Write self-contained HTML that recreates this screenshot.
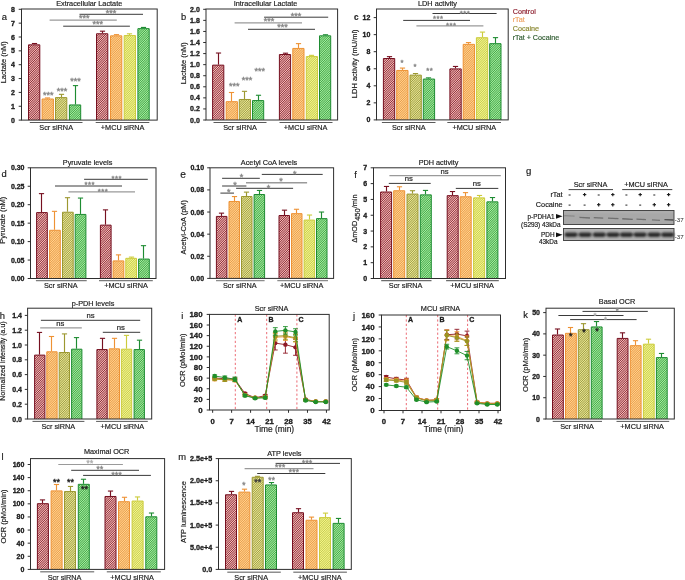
<!DOCTYPE html>
<html><head><meta charset="utf-8"><title>Figure</title>
<style>html,body{margin:0;padding:0;background:#fff}svg{display:block}text{font-family:"Liberation Sans",sans-serif}</style>
</head><body>
<svg width="685" height="580" viewBox="0 0 685 580" style="will-change:transform">
<defs>
<pattern id="pr" width="1.59" height="4" patternUnits="userSpaceOnUse" patternTransform="rotate(45)"><rect width="1.59" height="4" fill="#fcc4c2"/><rect width="0.795" height="4" fill="#8c3038"/></pattern>
<pattern id="po" width="1.59" height="4" patternUnits="userSpaceOnUse" patternTransform="rotate(45)"><rect width="1.59" height="4" fill="#ffd894"/><rect width="0.795" height="4" fill="#ec9a48"/></pattern>
<pattern id="pk" width="1.59" height="4" patternUnits="userSpaceOnUse" patternTransform="rotate(45)"><rect width="1.59" height="4" fill="#f0ee98"/><rect width="0.795" height="4" fill="#9c9a46"/></pattern>
<pattern id="py" width="1.59" height="4" patternUnits="userSpaceOnUse" patternTransform="rotate(45)"><rect width="1.59" height="4" fill="#f8fa90"/><rect width="0.795" height="4" fill="#c6ca50"/></pattern>
<pattern id="pg" width="1.59" height="4" patternUnits="userSpaceOnUse" patternTransform="rotate(45)"><rect width="1.59" height="4" fill="#a8f6a4"/><rect width="0.795" height="4" fill="#46a048"/></pattern>
<filter id="bl1" x="-5%" y="-50%" width="110%" height="200%"><feGaussianBlur stdDeviation="0.5"/></filter>
<filter id="bl2" x="-5%" y="-50%" width="110%" height="200%"><feGaussianBlur stdDeviation="0.95"/></filter>
<mask id="mk" maskUnits="userSpaceOnUse" x="0" y="0" width="685" height="580"><rect width="685" height="580" fill="#fff"/></mask>
</defs>
<rect width="685" height="580" fill="#fff"/>
<g mask="url(#mk)">
<g>
<line x1="34.5" y1="44.34" x2="34.5" y2="43.51" stroke="#761020" stroke-width="1.15"/>
<line x1="31.9" y1="43.51" x2="37.1" y2="43.51" stroke="#761020" stroke-width="1.1"/>
<path d="M28.5 120.1V44.84H39.8V120.1" fill="url(#pr)" stroke="#761020" stroke-width="1"/>
<line x1="47.5" y1="98.49" x2="47.5" y2="97.94" stroke="#ee9234" stroke-width="1.15"/>
<line x1="44.9" y1="97.94" x2="50.1" y2="97.94" stroke="#ee9234" stroke-width="1.1"/>
<path d="M42.1 120.1V98.99H53.4V120.1" fill="url(#po)" stroke="#ee9234" stroke-width="1"/>
<line x1="61.5" y1="97.11" x2="61.5" y2="94.34" stroke="#9c9830" stroke-width="1.15"/>
<line x1="58.9" y1="94.34" x2="64.1" y2="94.34" stroke="#9c9830" stroke-width="1.1"/>
<path d="M55.5 120.1V97.61H66.8V120.1" fill="url(#pk)" stroke="#9c9830" stroke-width="1"/>
<line x1="75.5" y1="104.45" x2="75.5" y2="85.61" stroke="#1e8c32" stroke-width="1.15"/>
<line x1="72.9" y1="85.61" x2="78.1" y2="85.61" stroke="#1e8c32" stroke-width="1.1"/>
<path d="M69.4 120.1V104.95H80.7V120.1" fill="url(#pg)" stroke="#1e8c32" stroke-width="1"/>
<line x1="102.5" y1="33.26" x2="102.5" y2="31.18" stroke="#761020" stroke-width="1.15"/>
<line x1="99.9" y1="31.18" x2="105.1" y2="31.18" stroke="#761020" stroke-width="1.1"/>
<path d="M96.5 120.1V33.76H107.8V120.1" fill="url(#pr)" stroke="#761020" stroke-width="1"/>
<line x1="116.5" y1="35.34" x2="116.5" y2="34.65" stroke="#ee9234" stroke-width="1.15"/>
<line x1="113.9" y1="34.65" x2="119.1" y2="34.65" stroke="#ee9234" stroke-width="1.1"/>
<path d="M110.5 120.1V35.84H121.8V120.1" fill="url(#po)" stroke="#ee9234" stroke-width="1"/>
<line x1="129.5" y1="35.06" x2="129.5" y2="33.81" stroke="#cccc3c" stroke-width="1.15"/>
<line x1="126.9" y1="33.81" x2="132.1" y2="33.81" stroke="#cccc3c" stroke-width="1.1"/>
<path d="M124.2 120.1V35.56H135.5V120.1" fill="url(#py)" stroke="#cccc3c" stroke-width="1"/>
<line x1="143.5" y1="28.14" x2="143.5" y2="27.44" stroke="#1e8c32" stroke-width="1.15"/>
<line x1="140.9" y1="27.44" x2="146.1" y2="27.44" stroke="#1e8c32" stroke-width="1.1"/>
<path d="M137.9 120.1V28.64H149.2V120.1" fill="url(#pg)" stroke="#1e8c32" stroke-width="1"/>
<rect x="21.5" y="9" width="135.7" height="111.1" fill="none" stroke="#2e2e2e" stroke-width="1"/>
<line x1="18.7" y1="120.1" x2="21.5" y2="120.1" stroke="#2e2e2e" stroke-width="1"/>
<text x="14.9" y="122.6" font-size="7.0" text-anchor="end" font-weight="bold" fill="#1c1c1c" stroke="#1c1c1c" stroke-width="0.32">0</text>
<line x1="18.7" y1="106.25" x2="21.5" y2="106.25" stroke="#2e2e2e" stroke-width="1"/>
<text x="14.9" y="108.75" font-size="7.0" text-anchor="end" font-weight="bold" fill="#1c1c1c" stroke="#1c1c1c" stroke-width="0.32">1</text>
<line x1="18.7" y1="92.4" x2="21.5" y2="92.4" stroke="#2e2e2e" stroke-width="1"/>
<text x="14.9" y="94.9" font-size="7.0" text-anchor="end" font-weight="bold" fill="#1c1c1c" stroke="#1c1c1c" stroke-width="0.32">2</text>
<line x1="18.7" y1="78.55" x2="21.5" y2="78.55" stroke="#2e2e2e" stroke-width="1"/>
<text x="14.9" y="81.05" font-size="7.0" text-anchor="end" font-weight="bold" fill="#1c1c1c" stroke="#1c1c1c" stroke-width="0.32">3</text>
<line x1="18.7" y1="64.7" x2="21.5" y2="64.7" stroke="#2e2e2e" stroke-width="1"/>
<text x="14.9" y="67.2" font-size="7.0" text-anchor="end" font-weight="bold" fill="#1c1c1c" stroke="#1c1c1c" stroke-width="0.32">4</text>
<line x1="18.7" y1="50.85" x2="21.5" y2="50.85" stroke="#2e2e2e" stroke-width="1"/>
<text x="14.9" y="53.35" font-size="7.0" text-anchor="end" font-weight="bold" fill="#1c1c1c" stroke="#1c1c1c" stroke-width="0.32">5</text>
<line x1="18.7" y1="37" x2="21.5" y2="37" stroke="#2e2e2e" stroke-width="1"/>
<text x="14.9" y="39.5" font-size="7.0" text-anchor="end" font-weight="bold" fill="#1c1c1c" stroke="#1c1c1c" stroke-width="0.32">6</text>
<line x1="18.7" y1="23.15" x2="21.5" y2="23.15" stroke="#2e2e2e" stroke-width="1"/>
<text x="14.9" y="25.65" font-size="7.0" text-anchor="end" font-weight="bold" fill="#1c1c1c" stroke="#1c1c1c" stroke-width="0.32">7</text>
<line x1="18.7" y1="9.3" x2="21.5" y2="9.3" stroke="#2e2e2e" stroke-width="1"/>
<text x="14.9" y="11.8" font-size="7.0" text-anchor="end" font-weight="bold" fill="#1c1c1c" stroke="#1c1c1c" stroke-width="0.32">8</text>
<text x="89.2" y="5.8" font-size="7.3" text-anchor="middle" fill="#1c1c1c" stroke="#1c1c1c" stroke-width="0.18">Extracellular Lactate</text>
<text x="1.8" y="19.6" font-size="9.4" text-anchor="start" fill="#1c1c1c" stroke="#1c1c1c" stroke-width="0.18">a</text>
<text transform="translate(6.1 62.3) rotate(-90)" font-size="7.5" text-anchor="middle" fill="#1c1c1c" stroke="#1c1c1c" stroke-width="0.18">Lactate (nM)</text>
<line x1="79.5" y1="14.3" x2="143" y2="14.3" stroke="#3a3a3a" stroke-width="1"/>
<line x1="49.6" y1="20.2" x2="116.8" y2="20.2" stroke="#9a9a9a" stroke-width="1.2"/>
<line x1="63.2" y1="26.2" x2="129.9" y2="26.2" stroke="#3a3a3a" stroke-width="1"/>
<text x="111" y="15.89" font-size="9" text-anchor="middle" fill="#8a8a8a" letter-spacing="-0" stroke="#8a8a8a" stroke-width="0.4">***</text>
<text x="84.2" y="21.39" font-size="9" text-anchor="middle" fill="#8a8a8a" letter-spacing="-0" stroke="#8a8a8a" stroke-width="0.4">***</text>
<text x="97.8" y="27.49" font-size="9" text-anchor="middle" fill="#8a8a8a" letter-spacing="-0" stroke="#8a8a8a" stroke-width="0.4">***</text>
<text x="48.3" y="98.09" font-size="9" text-anchor="middle" fill="#8a8a8a" letter-spacing="-0" stroke="#8a8a8a" stroke-width="0.4">***</text>
<text x="62" y="93.59" font-size="9" text-anchor="middle" fill="#8a8a8a" letter-spacing="-0" stroke="#8a8a8a" stroke-width="0.4">***</text>
<text x="75.4" y="84.49" font-size="9" text-anchor="middle" fill="#8a8a8a" letter-spacing="-0" stroke="#8a8a8a" stroke-width="0.4">***</text>
<line x1="29.8" y1="122.5" x2="82.5" y2="122.5" stroke="#5a5a5a" stroke-width="1.0"/>
<line x1="95.7" y1="122.5" x2="149.3" y2="122.5" stroke="#5a5a5a" stroke-width="1.0"/>
<text x="56.2" y="129.7" font-size="7.3" text-anchor="middle" fill="#1c1c1c" stroke="#1c1c1c" stroke-width="0.18">Scr siRNA</text>
<text x="122.6" y="129.7" font-size="7.3" text-anchor="middle" fill="#1c1c1c" stroke="#1c1c1c" stroke-width="0.18">+MCU siRNA</text>
</g>
<g>
<line x1="218.5" y1="64.65" x2="218.5" y2="53.03" stroke="#761020" stroke-width="1.15"/>
<line x1="215.9" y1="53.03" x2="221.1" y2="53.03" stroke="#761020" stroke-width="1.1"/>
<path d="M212.6 120V65.15H223.8V120" fill="url(#pr)" stroke="#761020" stroke-width="1"/>
<line x1="231.5" y1="101.18" x2="231.5" y2="92.49" stroke="#ee9234" stroke-width="1.15"/>
<line x1="228.9" y1="92.49" x2="234.1" y2="92.49" stroke="#ee9234" stroke-width="1.1"/>
<path d="M226.2 120V101.68H237.4V120" fill="url(#po)" stroke="#ee9234" stroke-width="1"/>
<line x1="244.5" y1="98.97" x2="244.5" y2="91.33" stroke="#9c9830" stroke-width="1.15"/>
<line x1="241.9" y1="91.33" x2="247.1" y2="91.33" stroke="#9c9830" stroke-width="1.1"/>
<path d="M239.3 120V99.47H250.5V120" fill="url(#pk)" stroke="#9c9830" stroke-width="1"/>
<line x1="258.5" y1="100.07" x2="258.5" y2="95.26" stroke="#1e8c32" stroke-width="1.15"/>
<line x1="255.9" y1="95.26" x2="261.1" y2="95.26" stroke="#1e8c32" stroke-width="1.1"/>
<path d="M252.5 120V100.57H263.7V120" fill="url(#pg)" stroke="#1e8c32" stroke-width="1"/>
<line x1="285.5" y1="54.02" x2="285.5" y2="53.19" stroke="#761020" stroke-width="1.15"/>
<line x1="282.9" y1="53.19" x2="288.1" y2="53.19" stroke="#761020" stroke-width="1.1"/>
<path d="M279.4 120V54.52H290.6V120" fill="url(#pr)" stroke="#761020" stroke-width="1"/>
<line x1="298.5" y1="47.93" x2="298.5" y2="43.62" stroke="#ee9234" stroke-width="1.15"/>
<line x1="295.9" y1="43.62" x2="301.1" y2="43.62" stroke="#ee9234" stroke-width="1.1"/>
<path d="M292.8 120V48.43H304V120" fill="url(#po)" stroke="#ee9234" stroke-width="1"/>
<line x1="311.5" y1="56.07" x2="311.5" y2="55.35" stroke="#cccc3c" stroke-width="1.15"/>
<line x1="308.9" y1="55.35" x2="314.1" y2="55.35" stroke="#cccc3c" stroke-width="1.1"/>
<path d="M306.3 120V56.57H317.5V120" fill="url(#py)" stroke="#cccc3c" stroke-width="1"/>
<line x1="325.5" y1="35.31" x2="325.5" y2="34.76" stroke="#1e8c32" stroke-width="1.15"/>
<line x1="322.9" y1="34.76" x2="328.1" y2="34.76" stroke="#1e8c32" stroke-width="1.1"/>
<path d="M319.5 120V35.81H330.7V120" fill="url(#pg)" stroke="#1e8c32" stroke-width="1"/>
<rect x="206" y="9" width="131.6" height="111" fill="none" stroke="#2e2e2e" stroke-width="1"/>
<line x1="203.2" y1="120" x2="206" y2="120" stroke="#2e2e2e" stroke-width="1"/>
<text x="199.8" y="122.5" font-size="7.0" text-anchor="end" font-weight="bold" fill="#1c1c1c" stroke="#1c1c1c" stroke-width="0.32">0.0</text>
<line x1="203.2" y1="108.93" x2="206" y2="108.93" stroke="#2e2e2e" stroke-width="1"/>
<text x="199.8" y="111.43" font-size="7.0" text-anchor="end" font-weight="bold" fill="#1c1c1c" stroke="#1c1c1c" stroke-width="0.32">0.2</text>
<line x1="203.2" y1="97.86" x2="206" y2="97.86" stroke="#2e2e2e" stroke-width="1"/>
<text x="199.8" y="100.36" font-size="7.0" text-anchor="end" font-weight="bold" fill="#1c1c1c" stroke="#1c1c1c" stroke-width="0.32">0.4</text>
<line x1="203.2" y1="86.79" x2="206" y2="86.79" stroke="#2e2e2e" stroke-width="1"/>
<text x="199.8" y="89.29" font-size="7.0" text-anchor="end" font-weight="bold" fill="#1c1c1c" stroke="#1c1c1c" stroke-width="0.32">0.6</text>
<line x1="203.2" y1="75.72" x2="206" y2="75.72" stroke="#2e2e2e" stroke-width="1"/>
<text x="199.8" y="78.22" font-size="7.0" text-anchor="end" font-weight="bold" fill="#1c1c1c" stroke="#1c1c1c" stroke-width="0.32">0.8</text>
<line x1="203.2" y1="64.65" x2="206" y2="64.65" stroke="#2e2e2e" stroke-width="1"/>
<text x="199.8" y="67.15" font-size="7.0" text-anchor="end" font-weight="bold" fill="#1c1c1c" stroke="#1c1c1c" stroke-width="0.32">1.0</text>
<line x1="203.2" y1="53.58" x2="206" y2="53.58" stroke="#2e2e2e" stroke-width="1"/>
<text x="199.8" y="56.08" font-size="7.0" text-anchor="end" font-weight="bold" fill="#1c1c1c" stroke="#1c1c1c" stroke-width="0.32">1.2</text>
<line x1="203.2" y1="42.51" x2="206" y2="42.51" stroke="#2e2e2e" stroke-width="1"/>
<text x="199.8" y="45.01" font-size="7.0" text-anchor="end" font-weight="bold" fill="#1c1c1c" stroke="#1c1c1c" stroke-width="0.32">1.4</text>
<line x1="203.2" y1="31.44" x2="206" y2="31.44" stroke="#2e2e2e" stroke-width="1"/>
<text x="199.8" y="33.94" font-size="7.0" text-anchor="end" font-weight="bold" fill="#1c1c1c" stroke="#1c1c1c" stroke-width="0.32">1.6</text>
<line x1="203.2" y1="20.37" x2="206" y2="20.37" stroke="#2e2e2e" stroke-width="1"/>
<text x="199.8" y="22.87" font-size="7.0" text-anchor="end" font-weight="bold" fill="#1c1c1c" stroke="#1c1c1c" stroke-width="0.32">1.8</text>
<line x1="203.2" y1="9.3" x2="206" y2="9.3" stroke="#2e2e2e" stroke-width="1"/>
<text x="199.8" y="11.8" font-size="7.0" text-anchor="end" font-weight="bold" fill="#1c1c1c" stroke="#1c1c1c" stroke-width="0.32">2.0</text>
<text x="265.5" y="5.8" font-size="7.3" text-anchor="middle" fill="#1c1c1c" stroke="#1c1c1c" stroke-width="0.18">Intracellular Lactate</text>
<text x="181" y="19.8" font-size="9.4" text-anchor="start" fill="#1c1c1c" stroke="#1c1c1c" stroke-width="0.18">b</text>
<text transform="translate(185.6 63.3) rotate(-90)" font-size="7.5" text-anchor="middle" fill="#1c1c1c" stroke="#1c1c1c" stroke-width="0.18">Lactate (nM)</text>
<line x1="264.1" y1="17.2" x2="328.2" y2="17.2" stroke="#3a3a3a" stroke-width="1"/>
<line x1="234.6" y1="22.8" x2="302" y2="22.8" stroke="#9a9a9a" stroke-width="1.2"/>
<line x1="248" y1="29.3" x2="315" y2="29.3" stroke="#3a3a3a" stroke-width="1"/>
<text x="296" y="18.59" font-size="9" text-anchor="middle" fill="#8a8a8a" letter-spacing="-0" stroke="#8a8a8a" stroke-width="0.4">***</text>
<text x="269" y="24.29" font-size="9" text-anchor="middle" fill="#8a8a8a" letter-spacing="-0" stroke="#8a8a8a" stroke-width="0.4">***</text>
<text x="282.6" y="30.39" font-size="9" text-anchor="middle" fill="#8a8a8a" letter-spacing="-0" stroke="#8a8a8a" stroke-width="0.4">***</text>
<text x="234.3" y="89.09" font-size="9" text-anchor="middle" fill="#8a8a8a" letter-spacing="-0" stroke="#8a8a8a" stroke-width="0.4">***</text>
<text x="247" y="82.69" font-size="9" text-anchor="middle" fill="#8a8a8a" letter-spacing="-0" stroke="#8a8a8a" stroke-width="0.4">***</text>
<text x="259.8" y="74.49" font-size="9" text-anchor="middle" fill="#8a8a8a" letter-spacing="-0" stroke="#8a8a8a" stroke-width="0.4">***</text>
<line x1="213.5" y1="122.5" x2="266.5" y2="122.5" stroke="#5a5a5a" stroke-width="1.0"/>
<line x1="279.5" y1="122.5" x2="332.5" y2="122.5" stroke="#5a5a5a" stroke-width="1.0"/>
<text x="240" y="129.7" font-size="7.3" text-anchor="middle" fill="#1c1c1c" stroke="#1c1c1c" stroke-width="0.18">Scr siRNA</text>
<text x="305.6" y="129.7" font-size="7.3" text-anchor="middle" fill="#1c1c1c" stroke="#1c1c1c" stroke-width="0.18">+MCU siRNA</text>
</g>
<g>
<line x1="389.5" y1="58.01" x2="389.5" y2="56.64" stroke="#761020" stroke-width="1.15"/>
<line x1="386.9" y1="56.64" x2="392.1" y2="56.64" stroke="#761020" stroke-width="1.1"/>
<path d="M383.4 119.9V58.51H394.7V119.9" fill="url(#pr)" stroke="#761020" stroke-width="1"/>
<line x1="402.5" y1="69.94" x2="402.5" y2="68.07" stroke="#ee9234" stroke-width="1.15"/>
<line x1="399.9" y1="68.07" x2="405.1" y2="68.07" stroke="#ee9234" stroke-width="1.1"/>
<path d="M396.7 119.9V70.44H408V119.9" fill="url(#po)" stroke="#ee9234" stroke-width="1"/>
<line x1="415.5" y1="74.63" x2="415.5" y2="73.52" stroke="#9c9830" stroke-width="1.15"/>
<line x1="412.9" y1="73.52" x2="418.1" y2="73.52" stroke="#9c9830" stroke-width="1.1"/>
<path d="M410 119.9V75.13H421.3V119.9" fill="url(#pk)" stroke="#9c9830" stroke-width="1"/>
<line x1="428.5" y1="78.55" x2="428.5" y2="77.87" stroke="#1e8c32" stroke-width="1.15"/>
<line x1="425.9" y1="77.87" x2="431.1" y2="77.87" stroke="#1e8c32" stroke-width="1.1"/>
<path d="M423.3 119.9V79.05H434.6V119.9" fill="url(#pg)" stroke="#1e8c32" stroke-width="1"/>
<line x1="455.5" y1="68.41" x2="455.5" y2="66.45" stroke="#761020" stroke-width="1.15"/>
<line x1="452.9" y1="66.45" x2="458.1" y2="66.45" stroke="#761020" stroke-width="1.1"/>
<path d="M449.9 119.9V68.91H461.2V119.9" fill="url(#pr)" stroke="#761020" stroke-width="1"/>
<line x1="468.5" y1="43.86" x2="468.5" y2="42.58" stroke="#ee9234" stroke-width="1.15"/>
<line x1="465.9" y1="42.58" x2="471.1" y2="42.58" stroke="#ee9234" stroke-width="1.1"/>
<path d="M463.2 119.9V44.36H474.5V119.9" fill="url(#po)" stroke="#ee9234" stroke-width="1"/>
<line x1="482.5" y1="37.21" x2="482.5" y2="32.09" stroke="#cccc3c" stroke-width="1.15"/>
<line x1="479.9" y1="32.09" x2="485.1" y2="32.09" stroke="#cccc3c" stroke-width="1.1"/>
<path d="M476.4 119.9V37.71H487.7V119.9" fill="url(#py)" stroke="#cccc3c" stroke-width="1"/>
<line x1="495.5" y1="43.17" x2="495.5" y2="37.63" stroke="#1e8c32" stroke-width="1.15"/>
<line x1="492.9" y1="37.63" x2="498.1" y2="37.63" stroke="#1e8c32" stroke-width="1.1"/>
<path d="M489.7 119.9V43.67H501V119.9" fill="url(#pg)" stroke="#1e8c32" stroke-width="1"/>
<rect x="376.5" y="9" width="131.7" height="110.9" fill="none" stroke="#2e2e2e" stroke-width="1"/>
<line x1="373.7" y1="119.9" x2="376.5" y2="119.9" stroke="#2e2e2e" stroke-width="1"/>
<text x="370.4" y="122.4" font-size="7.0" text-anchor="end" font-weight="bold" fill="#1c1c1c" stroke="#1c1c1c" stroke-width="0.32">0</text>
<line x1="373.7" y1="102.85" x2="376.5" y2="102.85" stroke="#2e2e2e" stroke-width="1"/>
<text x="370.4" y="105.35" font-size="7.0" text-anchor="end" font-weight="bold" fill="#1c1c1c" stroke="#1c1c1c" stroke-width="0.32">2</text>
<line x1="373.7" y1="85.8" x2="376.5" y2="85.8" stroke="#2e2e2e" stroke-width="1"/>
<text x="370.4" y="88.3" font-size="7.0" text-anchor="end" font-weight="bold" fill="#1c1c1c" stroke="#1c1c1c" stroke-width="0.32">4</text>
<line x1="373.7" y1="68.75" x2="376.5" y2="68.75" stroke="#2e2e2e" stroke-width="1"/>
<text x="370.4" y="71.25" font-size="7.0" text-anchor="end" font-weight="bold" fill="#1c1c1c" stroke="#1c1c1c" stroke-width="0.32">6</text>
<line x1="373.7" y1="51.7" x2="376.5" y2="51.7" stroke="#2e2e2e" stroke-width="1"/>
<text x="370.4" y="54.2" font-size="7.0" text-anchor="end" font-weight="bold" fill="#1c1c1c" stroke="#1c1c1c" stroke-width="0.32">8</text>
<line x1="373.7" y1="34.65" x2="376.5" y2="34.65" stroke="#2e2e2e" stroke-width="1"/>
<text x="370.4" y="37.15" font-size="7.0" text-anchor="end" font-weight="bold" fill="#1c1c1c" stroke="#1c1c1c" stroke-width="0.32">10</text>
<line x1="373.7" y1="17.6" x2="376.5" y2="17.6" stroke="#2e2e2e" stroke-width="1"/>
<text x="370.4" y="20.1" font-size="7.0" text-anchor="end" font-weight="bold" fill="#1c1c1c" stroke="#1c1c1c" stroke-width="0.32">12</text>
<text x="437.5" y="5.8" font-size="7.3" text-anchor="middle" fill="#1c1c1c" stroke="#1c1c1c" stroke-width="0.18">LDH activity</text>
<text x="354" y="19.6" font-size="9.4" text-anchor="start" fill="#1c1c1c" stroke="#1c1c1c" stroke-width="0.18"><tspan font-weight="bold" font-size="8.2">c</tspan></text>
<text transform="translate(357 63.8) rotate(-90)" font-size="7.5" text-anchor="middle" fill="#1c1c1c" stroke="#1c1c1c" stroke-width="0.18">LDH activity (mU/ml)</text>
<line x1="432.5" y1="13.5" x2="496.6" y2="13.5" stroke="#3a3a3a" stroke-width="1"/>
<line x1="403.2" y1="20.4" x2="470" y2="20.4" stroke="#3a3a3a" stroke-width="1"/>
<line x1="416.4" y1="25.8" x2="483.4" y2="25.8" stroke="#9a9a9a" stroke-width="1.2"/>
<text x="464.97" y="15.63" font-size="7.6" text-anchor="middle" fill="#8a8a8a" letter-spacing="0.54" stroke="#8a8a8a" stroke-width="0.4">***</text>
<text x="438.17" y="21.34" font-size="7.6" text-anchor="middle" fill="#8a8a8a" letter-spacing="0.54" stroke="#8a8a8a" stroke-width="0.4">***</text>
<text x="451.27" y="27.63" font-size="7.6" text-anchor="middle" fill="#8a8a8a" letter-spacing="0.54" stroke="#8a8a8a" stroke-width="0.4">***</text>
<text x="402.27" y="64.94" font-size="7.6" text-anchor="middle" fill="#8a8a8a" letter-spacing="0.54" stroke="#8a8a8a" stroke-width="0.4">*</text>
<text x="415.37" y="68.83" font-size="7.6" text-anchor="middle" fill="#8a8a8a" letter-spacing="0.54" stroke="#8a8a8a" stroke-width="0.4">*</text>
<text x="429.67" y="73.23" font-size="7.6" text-anchor="middle" fill="#8a8a8a" letter-spacing="0.54" stroke="#8a8a8a" stroke-width="0.4">**</text>
<line x1="381.9" y1="122.5" x2="435.5" y2="122.5" stroke="#5a5a5a" stroke-width="1.0"/>
<line x1="447.3" y1="122.5" x2="501" y2="122.5" stroke="#5a5a5a" stroke-width="1.0"/>
<text x="408.8" y="129.7" font-size="7.3" text-anchor="middle" fill="#1c1c1c" stroke="#1c1c1c" stroke-width="0.18">Scr siRNA</text>
<text x="474.3" y="129.7" font-size="7.3" text-anchor="middle" fill="#1c1c1c" stroke="#1c1c1c" stroke-width="0.18">+MCU siRNA</text>
</g>
<g>
<line x1="41.5" y1="212.08" x2="41.5" y2="193.63" stroke="#761020" stroke-width="1.15"/>
<line x1="38.9" y1="193.63" x2="44.1" y2="193.63" stroke="#761020" stroke-width="1.1"/>
<path d="M36.6 278.5V212.58H47.3V278.5" fill="url(#pr)" stroke="#761020" stroke-width="1"/>
<line x1="54.5" y1="229.79" x2="54.5" y2="211.34" stroke="#ee9234" stroke-width="1.15"/>
<line x1="51.9" y1="211.34" x2="57.1" y2="211.34" stroke="#ee9234" stroke-width="1.1"/>
<path d="M49.6 278.5V230.29H60.3V278.5" fill="url(#po)" stroke="#ee9234" stroke-width="1"/>
<line x1="67.5" y1="211.71" x2="67.5" y2="197.69" stroke="#9c9830" stroke-width="1.15"/>
<line x1="64.9" y1="197.69" x2="70.1" y2="197.69" stroke="#9c9830" stroke-width="1.1"/>
<path d="M62.5 278.5V212.21H73.2V278.5" fill="url(#pk)" stroke="#9c9830" stroke-width="1"/>
<line x1="80.5" y1="213.93" x2="80.5" y2="198.06" stroke="#1e8c32" stroke-width="1.15"/>
<line x1="77.9" y1="198.06" x2="83.1" y2="198.06" stroke="#1e8c32" stroke-width="1.1"/>
<path d="M75.2 278.5V214.43H85.9V278.5" fill="url(#pg)" stroke="#1e8c32" stroke-width="1"/>
<line x1="105.5" y1="224.63" x2="105.5" y2="209.87" stroke="#761020" stroke-width="1.15"/>
<line x1="102.9" y1="209.87" x2="108.1" y2="209.87" stroke="#761020" stroke-width="1.1"/>
<path d="M100.4 278.5V225.13H111.1V278.5" fill="url(#pr)" stroke="#761020" stroke-width="1"/>
<line x1="118.5" y1="260.42" x2="118.5" y2="254.88" stroke="#ee9234" stroke-width="1.15"/>
<line x1="115.9" y1="254.88" x2="121.1" y2="254.88" stroke="#ee9234" stroke-width="1.1"/>
<path d="M113.1 278.5V260.92H123.8V278.5" fill="url(#po)" stroke="#ee9234" stroke-width="1"/>
<line x1="131.5" y1="257.84" x2="131.5" y2="257.1" stroke="#cccc3c" stroke-width="1.15"/>
<line x1="128.9" y1="257.1" x2="134.1" y2="257.1" stroke="#cccc3c" stroke-width="1.1"/>
<path d="M125.8 278.5V258.34H136.5V278.5" fill="url(#py)" stroke="#cccc3c" stroke-width="1"/>
<line x1="143.5" y1="258.57" x2="143.5" y2="245.66" stroke="#1e8c32" stroke-width="1.15"/>
<line x1="140.9" y1="245.66" x2="146.1" y2="245.66" stroke="#1e8c32" stroke-width="1.1"/>
<path d="M138.6 278.5V259.07H149.3V278.5" fill="url(#pg)" stroke="#1e8c32" stroke-width="1"/>
<rect x="30.5" y="167.8" width="125.5" height="110.7" fill="none" stroke="#2e2e2e" stroke-width="1"/>
<line x1="27.7" y1="278.5" x2="30.5" y2="278.5" stroke="#2e2e2e" stroke-width="1"/>
<text x="24.5" y="281" font-size="7.0" text-anchor="end" font-weight="bold" fill="#1c1c1c" stroke="#1c1c1c" stroke-width="0.32">0.00</text>
<line x1="27.7" y1="260.05" x2="30.5" y2="260.05" stroke="#2e2e2e" stroke-width="1"/>
<text x="24.5" y="262.55" font-size="7.0" text-anchor="end" font-weight="bold" fill="#1c1c1c" stroke="#1c1c1c" stroke-width="0.32">0.05</text>
<line x1="27.7" y1="241.6" x2="30.5" y2="241.6" stroke="#2e2e2e" stroke-width="1"/>
<text x="24.5" y="244.1" font-size="7.0" text-anchor="end" font-weight="bold" fill="#1c1c1c" stroke="#1c1c1c" stroke-width="0.32">0.10</text>
<line x1="27.7" y1="223.15" x2="30.5" y2="223.15" stroke="#2e2e2e" stroke-width="1"/>
<text x="24.5" y="225.65" font-size="7.0" text-anchor="end" font-weight="bold" fill="#1c1c1c" stroke="#1c1c1c" stroke-width="0.32">0.15</text>
<line x1="27.7" y1="204.7" x2="30.5" y2="204.7" stroke="#2e2e2e" stroke-width="1"/>
<text x="24.5" y="207.2" font-size="7.0" text-anchor="end" font-weight="bold" fill="#1c1c1c" stroke="#1c1c1c" stroke-width="0.32">0.20</text>
<line x1="27.7" y1="186.25" x2="30.5" y2="186.25" stroke="#2e2e2e" stroke-width="1"/>
<text x="24.5" y="188.75" font-size="7.0" text-anchor="end" font-weight="bold" fill="#1c1c1c" stroke="#1c1c1c" stroke-width="0.32">0.25</text>
<line x1="27.7" y1="167.8" x2="30.5" y2="167.8" stroke="#2e2e2e" stroke-width="1"/>
<text x="24.5" y="170.3" font-size="7.0" text-anchor="end" font-weight="bold" fill="#1c1c1c" stroke="#1c1c1c" stroke-width="0.32">0.30</text>
<text x="87.6" y="164.8" font-size="7.3" text-anchor="middle" fill="#1c1c1c" stroke="#1c1c1c" stroke-width="0.18">Pyruvate levels</text>
<text x="1.5" y="177.4" font-size="9.4" text-anchor="start" fill="#1c1c1c" stroke="#1c1c1c" stroke-width="0.18">d</text>
<text transform="translate(5.2 220.2) rotate(-90)" font-size="7.5" text-anchor="middle" fill="#1c1c1c" stroke="#1c1c1c" stroke-width="0.18">Pyruvate (nM)</text>
<line x1="84.1" y1="179.3" x2="147.8" y2="179.3" stroke="#3a3a3a" stroke-width="1"/>
<line x1="55" y1="186" x2="122" y2="186" stroke="#3a3a3a" stroke-width="1"/>
<line x1="68.4" y1="191.9" x2="135" y2="191.9" stroke="#9a9a9a" stroke-width="1.2"/>
<text x="116.67" y="181.24" font-size="7.6" text-anchor="middle" fill="#8a8a8a" letter-spacing="0.54" stroke="#8a8a8a" stroke-width="0.4">***</text>
<text x="89.67" y="187.34" font-size="7.6" text-anchor="middle" fill="#8a8a8a" letter-spacing="0.54" stroke="#8a8a8a" stroke-width="0.4">***</text>
<text x="103.07" y="193.54" font-size="7.6" text-anchor="middle" fill="#8a8a8a" letter-spacing="0.54" stroke="#8a8a8a" stroke-width="0.4">***</text>
<line x1="35.9" y1="280.6" x2="86.7" y2="280.6" stroke="#7c7c7c" stroke-width="1.3"/>
<line x1="99" y1="280.6" x2="152.8" y2="280.6" stroke="#7c7c7c" stroke-width="1.3"/>
<text x="60.8" y="287.8" font-size="7.3" text-anchor="middle" fill="#1c1c1c" stroke="#1c1c1c" stroke-width="0.18">Scr siRNA</text>
<text x="126" y="287.8" font-size="7.3" text-anchor="middle" fill="#1c1c1c" stroke="#1c1c1c" stroke-width="0.18">+MCU siRNA</text>
</g>
<g>
<line x1="221.5" y1="215.91" x2="221.5" y2="213.15" stroke="#761020" stroke-width="1.15"/>
<line x1="218.9" y1="213.15" x2="224.1" y2="213.15" stroke="#761020" stroke-width="1.1"/>
<path d="M216.4 278.4V216.41H226.9V278.4" fill="url(#pr)" stroke="#761020" stroke-width="1"/>
<line x1="234.5" y1="200.98" x2="234.5" y2="196.56" stroke="#ee9234" stroke-width="1.15"/>
<line x1="231.9" y1="196.56" x2="237.1" y2="196.56" stroke="#ee9234" stroke-width="1.1"/>
<path d="M229 278.4V201.48H239.5V278.4" fill="url(#po)" stroke="#ee9234" stroke-width="1"/>
<line x1="246.5" y1="196" x2="246.5" y2="192.13" stroke="#9c9830" stroke-width="1.15"/>
<line x1="243.9" y1="192.13" x2="249.1" y2="192.13" stroke="#9c9830" stroke-width="1.1"/>
<path d="M241.5 278.4V196.5H252V278.4" fill="url(#pk)" stroke="#9c9830" stroke-width="1"/>
<line x1="259.5" y1="194.01" x2="259.5" y2="190.47" stroke="#1e8c32" stroke-width="1.15"/>
<line x1="256.9" y1="190.47" x2="262.1" y2="190.47" stroke="#1e8c32" stroke-width="1.1"/>
<path d="M254.1 278.4V194.51H264.6V278.4" fill="url(#pg)" stroke="#1e8c32" stroke-width="1"/>
<line x1="284.5" y1="215.03" x2="284.5" y2="210.16" stroke="#761020" stroke-width="1.15"/>
<line x1="281.9" y1="210.16" x2="287.1" y2="210.16" stroke="#761020" stroke-width="1.1"/>
<path d="M279 278.4V215.53H289.5V278.4" fill="url(#pr)" stroke="#761020" stroke-width="1"/>
<line x1="296.5" y1="213.15" x2="296.5" y2="209.27" stroke="#ee9234" stroke-width="1.15"/>
<line x1="293.9" y1="209.27" x2="299.1" y2="209.27" stroke="#ee9234" stroke-width="1.1"/>
<path d="M291.5 278.4V213.65H302V278.4" fill="url(#po)" stroke="#ee9234" stroke-width="1"/>
<line x1="309.5" y1="219.56" x2="309.5" y2="215.03" stroke="#cccc3c" stroke-width="1.15"/>
<line x1="306.9" y1="215.03" x2="312.1" y2="215.03" stroke="#cccc3c" stroke-width="1.1"/>
<path d="M304.1 278.4V220.06H314.6V278.4" fill="url(#py)" stroke="#cccc3c" stroke-width="1"/>
<line x1="321.5" y1="218.12" x2="321.5" y2="212.04" stroke="#1e8c32" stroke-width="1.15"/>
<line x1="318.9" y1="212.04" x2="324.1" y2="212.04" stroke="#1e8c32" stroke-width="1.1"/>
<path d="M316.5 278.4V218.62H327V278.4" fill="url(#pg)" stroke="#1e8c32" stroke-width="1"/>
<rect x="210" y="167.8" width="123.6" height="110.6" fill="none" stroke="#2e2e2e" stroke-width="1"/>
<line x1="207.2" y1="278.4" x2="210" y2="278.4" stroke="#2e2e2e" stroke-width="1"/>
<text x="204.1" y="280.9" font-size="7.0" text-anchor="end" font-weight="bold" fill="#1c1c1c" stroke="#1c1c1c" stroke-width="0.32">0.00</text>
<line x1="207.2" y1="256.28" x2="210" y2="256.28" stroke="#2e2e2e" stroke-width="1"/>
<text x="204.1" y="258.78" font-size="7.0" text-anchor="end" font-weight="bold" fill="#1c1c1c" stroke="#1c1c1c" stroke-width="0.32">0.02</text>
<line x1="207.2" y1="234.16" x2="210" y2="234.16" stroke="#2e2e2e" stroke-width="1"/>
<text x="204.1" y="236.66" font-size="7.0" text-anchor="end" font-weight="bold" fill="#1c1c1c" stroke="#1c1c1c" stroke-width="0.32">0.04</text>
<line x1="207.2" y1="212.04" x2="210" y2="212.04" stroke="#2e2e2e" stroke-width="1"/>
<text x="204.1" y="214.54" font-size="7.0" text-anchor="end" font-weight="bold" fill="#1c1c1c" stroke="#1c1c1c" stroke-width="0.32">0.06</text>
<line x1="207.2" y1="189.92" x2="210" y2="189.92" stroke="#2e2e2e" stroke-width="1"/>
<text x="204.1" y="192.42" font-size="7.0" text-anchor="end" font-weight="bold" fill="#1c1c1c" stroke="#1c1c1c" stroke-width="0.32">0.08</text>
<line x1="207.2" y1="167.8" x2="210" y2="167.8" stroke="#2e2e2e" stroke-width="1"/>
<text x="204.1" y="170.3" font-size="7.0" text-anchor="end" font-weight="bold" fill="#1c1c1c" stroke="#1c1c1c" stroke-width="0.32">0.10</text>
<text x="269" y="164.8" font-size="7.3" text-anchor="middle" fill="#1c1c1c" stroke="#1c1c1c" stroke-width="0.18">Acetyl CoA levels</text>
<text x="180.3" y="177.9" font-size="10.2" text-anchor="start" fill="#1c1c1c" stroke="#1c1c1c" stroke-width="0.18">e</text>
<text transform="translate(185.7 227.2) rotate(-90)" font-size="7.5" text-anchor="middle" fill="#1c1c1c" stroke="#1c1c1c" stroke-width="0.18">Acetyl-CoA (pM)</text>
<line x1="261.8" y1="174.4" x2="322.7" y2="174.4" stroke="#3a3a3a" stroke-width="1"/>
<line x1="222.1" y1="178.3" x2="259.8" y2="178.3" stroke="#3a3a3a" stroke-width="1"/>
<line x1="246" y1="182.7" x2="307.1" y2="182.7" stroke="#9a9a9a" stroke-width="1.6"/>
<line x1="222.1" y1="186" x2="246.4" y2="186" stroke="#3a3a3a" stroke-width="1"/>
<line x1="236.1" y1="188.3" x2="293.1" y2="188.3" stroke="#3a3a3a" stroke-width="1"/>
<line x1="220.4" y1="193.1" x2="234" y2="193.1" stroke="#3a3a3a" stroke-width="1"/>
<text x="294.7" y="176.69" font-size="9" text-anchor="middle" fill="#8a8a8a" letter-spacing="-0" stroke="#8a8a8a" stroke-width="0.4">*</text>
<text x="241.5" y="180.39" font-size="9" text-anchor="middle" fill="#8a8a8a" letter-spacing="-0" stroke="#8a8a8a" stroke-width="0.4">*</text>
<text x="280.9" y="184.29" font-size="9" text-anchor="middle" fill="#8a8a8a" letter-spacing="-0" stroke="#8a8a8a" stroke-width="0.4">*</text>
<text x="235" y="187.69" font-size="9" text-anchor="middle" fill="#8a8a8a" letter-spacing="-0" stroke="#8a8a8a" stroke-width="0.4">*</text>
<text x="268.5" y="191.09" font-size="9" text-anchor="middle" fill="#8a8a8a" letter-spacing="-0" stroke="#8a8a8a" stroke-width="0.4">*</text>
<text x="228.7" y="194.69" font-size="9" text-anchor="middle" fill="#8a8a8a" letter-spacing="-0" stroke="#8a8a8a" stroke-width="0.4">*</text>
<line x1="216" y1="280.6" x2="264.6" y2="280.6" stroke="#8c8c8c" stroke-width="1.4"/>
<line x1="277.3" y1="280.6" x2="328" y2="280.6" stroke="#8c8c8c" stroke-width="1.4"/>
<text x="239.8" y="287.8" font-size="7.3" text-anchor="middle" fill="#1c1c1c" stroke="#1c1c1c" stroke-width="0.18">Scr siRNA</text>
<text x="301.7" y="287.8" font-size="7.3" text-anchor="middle" fill="#1c1c1c" stroke="#1c1c1c" stroke-width="0.18">+MCU siRNA</text>
</g>
<g>
<line x1="386.5" y1="191.52" x2="386.5" y2="186.46" stroke="#761020" stroke-width="1.15"/>
<line x1="383.9" y1="186.46" x2="389.1" y2="186.46" stroke="#761020" stroke-width="1.1"/>
<path d="M380.6 278.5V192.02H391.6V278.5" fill="url(#pr)" stroke="#761020" stroke-width="1"/>
<line x1="399.5" y1="190.26" x2="399.5" y2="186.78" stroke="#ee9234" stroke-width="1.15"/>
<line x1="396.9" y1="186.78" x2="402.1" y2="186.78" stroke="#ee9234" stroke-width="1.1"/>
<path d="M393.7 278.5V190.76H404.7V278.5" fill="url(#po)" stroke="#ee9234" stroke-width="1"/>
<line x1="412.5" y1="193.58" x2="412.5" y2="190.73" stroke="#9c9830" stroke-width="1.15"/>
<line x1="409.9" y1="190.73" x2="415.1" y2="190.73" stroke="#9c9830" stroke-width="1.1"/>
<path d="M407 278.5V194.08H418V278.5" fill="url(#pk)" stroke="#9c9830" stroke-width="1"/>
<line x1="425.5" y1="194.37" x2="425.5" y2="190.41" stroke="#1e8c32" stroke-width="1.15"/>
<line x1="422.9" y1="190.41" x2="428.1" y2="190.41" stroke="#1e8c32" stroke-width="1.1"/>
<path d="M420.3 278.5V194.87H431.3V278.5" fill="url(#pg)" stroke="#1e8c32" stroke-width="1"/>
<line x1="452.5" y1="195.16" x2="452.5" y2="191.52" stroke="#761020" stroke-width="1.15"/>
<line x1="449.9" y1="191.52" x2="455.1" y2="191.52" stroke="#761020" stroke-width="1.1"/>
<path d="M447.2 278.5V195.66H458.2V278.5" fill="url(#pr)" stroke="#761020" stroke-width="1"/>
<line x1="465.5" y1="196.27" x2="465.5" y2="192.63" stroke="#ee9234" stroke-width="1.15"/>
<line x1="462.9" y1="192.63" x2="468.1" y2="192.63" stroke="#ee9234" stroke-width="1.1"/>
<path d="M460.2 278.5V196.77H471.2V278.5" fill="url(#po)" stroke="#ee9234" stroke-width="1"/>
<line x1="479.5" y1="197.37" x2="479.5" y2="195.47" stroke="#cccc3c" stroke-width="1.15"/>
<line x1="476.9" y1="195.47" x2="482.1" y2="195.47" stroke="#cccc3c" stroke-width="1.1"/>
<path d="M473.6 278.5V197.87H484.6V278.5" fill="url(#py)" stroke="#cccc3c" stroke-width="1"/>
<line x1="492.5" y1="201.33" x2="492.5" y2="197.53" stroke="#1e8c32" stroke-width="1.15"/>
<line x1="489.9" y1="197.53" x2="495.1" y2="197.53" stroke="#1e8c32" stroke-width="1.1"/>
<path d="M486.9 278.5V201.83H497.9V278.5" fill="url(#pg)" stroke="#1e8c32" stroke-width="1"/>
<rect x="373.5" y="167.8" width="132" height="110.7" fill="none" stroke="#2e2e2e" stroke-width="1"/>
<line x1="370.7" y1="278.5" x2="373.5" y2="278.5" stroke="#2e2e2e" stroke-width="1"/>
<text x="367.1" y="281" font-size="7.0" text-anchor="end" font-weight="bold" fill="#1c1c1c" stroke="#1c1c1c" stroke-width="0.32">0</text>
<line x1="370.7" y1="262.69" x2="373.5" y2="262.69" stroke="#2e2e2e" stroke-width="1"/>
<text x="367.1" y="265.19" font-size="7.0" text-anchor="end" font-weight="bold" fill="#1c1c1c" stroke="#1c1c1c" stroke-width="0.32">1</text>
<line x1="370.7" y1="246.87" x2="373.5" y2="246.87" stroke="#2e2e2e" stroke-width="1"/>
<text x="367.1" y="249.37" font-size="7.0" text-anchor="end" font-weight="bold" fill="#1c1c1c" stroke="#1c1c1c" stroke-width="0.32">2</text>
<line x1="370.7" y1="231.06" x2="373.5" y2="231.06" stroke="#2e2e2e" stroke-width="1"/>
<text x="367.1" y="233.56" font-size="7.0" text-anchor="end" font-weight="bold" fill="#1c1c1c" stroke="#1c1c1c" stroke-width="0.32">3</text>
<line x1="370.7" y1="215.24" x2="373.5" y2="215.24" stroke="#2e2e2e" stroke-width="1"/>
<text x="367.1" y="217.74" font-size="7.0" text-anchor="end" font-weight="bold" fill="#1c1c1c" stroke="#1c1c1c" stroke-width="0.32">4</text>
<line x1="370.7" y1="199.43" x2="373.5" y2="199.43" stroke="#2e2e2e" stroke-width="1"/>
<text x="367.1" y="201.93" font-size="7.0" text-anchor="end" font-weight="bold" fill="#1c1c1c" stroke="#1c1c1c" stroke-width="0.32">5</text>
<line x1="370.7" y1="183.61" x2="373.5" y2="183.61" stroke="#2e2e2e" stroke-width="1"/>
<text x="367.1" y="186.11" font-size="7.0" text-anchor="end" font-weight="bold" fill="#1c1c1c" stroke="#1c1c1c" stroke-width="0.32">6</text>
<line x1="370.7" y1="167.8" x2="373.5" y2="167.8" stroke="#2e2e2e" stroke-width="1"/>
<text x="367.1" y="170.3" font-size="7.0" text-anchor="end" font-weight="bold" fill="#1c1c1c" stroke="#1c1c1c" stroke-width="0.32">7</text>
<text x="438.5" y="165" font-size="7.3" text-anchor="middle" fill="#1c1c1c" stroke="#1c1c1c" stroke-width="0.18">PDH activity</text>
<text x="354.2" y="177.9" font-size="9.4" text-anchor="start" fill="#1c1c1c" stroke="#1c1c1c" stroke-width="0.18">f</text>
<text transform="translate(357.3 218.6) rotate(-90)" font-size="7.3" text-anchor="middle" fill="#1c1c1c" stroke="#1c1c1c" stroke-width="0.18">&#916;mOD<tspan font-size="7.5" dy="3">450</tspan><tspan dy="-3.4">/min</tspan></text>
<line x1="389.4" y1="175.7" x2="500.8" y2="175.7" stroke="#9a9a9a" stroke-width="1.2"/>
<line x1="388.8" y1="183.4" x2="430.7" y2="183.4" stroke="#3a3a3a" stroke-width="1"/>
<line x1="455.8" y1="188.4" x2="498.3" y2="188.4" stroke="#3a3a3a" stroke-width="1"/>
<text x="444.6" y="173.7" font-size="7.7" text-anchor="middle" fill="#1c1c1c" stroke="#1c1c1c" stroke-width="0.18">ns</text>
<text x="408.8" y="181.4" font-size="7.7" text-anchor="middle" fill="#1c1c1c" stroke="#1c1c1c" stroke-width="0.18">ns</text>
<text x="476.7" y="186.2" font-size="7.7" text-anchor="middle" fill="#1c1c1c" stroke="#1c1c1c" stroke-width="0.18">ns</text>
<line x1="381.2" y1="280.6" x2="431.5" y2="280.6" stroke="#6c6c6c" stroke-width="1.1"/>
<line x1="446.1" y1="280.6" x2="498.8" y2="280.6" stroke="#6c6c6c" stroke-width="1.1"/>
<text x="405.6" y="287.8" font-size="7.3" text-anchor="middle" fill="#1c1c1c" stroke="#1c1c1c" stroke-width="0.18">Scr siRNA</text>
<text x="472.1" y="287.8" font-size="7.3" text-anchor="middle" fill="#1c1c1c" stroke="#1c1c1c" stroke-width="0.18">+MCU siRNA</text>
</g>
<g>
<line x1="39.5" y1="354.62" x2="39.5" y2="332.42" stroke="#761020" stroke-width="1.15"/>
<line x1="36.9" y1="332.42" x2="42.1" y2="332.42" stroke="#761020" stroke-width="1.1"/>
<path d="M34.6 419V355.12H44.9V419" fill="url(#pr)" stroke="#761020" stroke-width="1"/>
<line x1="51.5" y1="351.29" x2="51.5" y2="336.49" stroke="#ee9234" stroke-width="1.15"/>
<line x1="48.9" y1="336.49" x2="54.1" y2="336.49" stroke="#ee9234" stroke-width="1.1"/>
<path d="M46.8 419V351.79H57.1V419" fill="url(#po)" stroke="#ee9234" stroke-width="1"/>
<line x1="64.5" y1="352.03" x2="64.5" y2="333.9" stroke="#9c9830" stroke-width="1.15"/>
<line x1="61.9" y1="333.9" x2="67.1" y2="333.9" stroke="#9c9830" stroke-width="1.1"/>
<path d="M59.2 419V352.53H69.5V419" fill="url(#pk)" stroke="#9c9830" stroke-width="1"/>
<line x1="76.5" y1="348.7" x2="76.5" y2="337.6" stroke="#1e8c32" stroke-width="1.15"/>
<line x1="73.9" y1="337.6" x2="79.1" y2="337.6" stroke="#1e8c32" stroke-width="1.1"/>
<path d="M71.6 419V349.2H81.9V419" fill="url(#pg)" stroke="#1e8c32" stroke-width="1"/>
<line x1="102.5" y1="349.07" x2="102.5" y2="338.34" stroke="#761020" stroke-width="1.15"/>
<line x1="99.9" y1="338.34" x2="105.1" y2="338.34" stroke="#761020" stroke-width="1.1"/>
<path d="M96.9 419V349.57H107.2V419" fill="url(#pr)" stroke="#761020" stroke-width="1"/>
<line x1="114.5" y1="348.33" x2="114.5" y2="338.34" stroke="#ee9234" stroke-width="1.15"/>
<line x1="111.9" y1="338.34" x2="117.1" y2="338.34" stroke="#ee9234" stroke-width="1.1"/>
<path d="M109.2 419V348.83H119.5V419" fill="url(#po)" stroke="#ee9234" stroke-width="1"/>
<line x1="126.5" y1="348.7" x2="126.5" y2="335.38" stroke="#cccc3c" stroke-width="1.15"/>
<line x1="123.9" y1="335.38" x2="129.1" y2="335.38" stroke="#cccc3c" stroke-width="1.1"/>
<path d="M121.4 419V349.2H131.7V419" fill="url(#py)" stroke="#cccc3c" stroke-width="1"/>
<line x1="139.5" y1="349.07" x2="139.5" y2="340.19" stroke="#1e8c32" stroke-width="1.15"/>
<line x1="136.9" y1="340.19" x2="142.1" y2="340.19" stroke="#1e8c32" stroke-width="1.1"/>
<path d="M134.1 419V349.57H144.4V419" fill="url(#pg)" stroke="#1e8c32" stroke-width="1"/>
<rect x="27.6" y="308.2" width="124.1" height="110.8" fill="none" stroke="#2e2e2e" stroke-width="1"/>
<line x1="24.8" y1="419" x2="27.6" y2="419" stroke="#2e2e2e" stroke-width="1"/>
<text x="22" y="421.5" font-size="7.0" text-anchor="end" font-weight="bold" fill="#1c1c1c" stroke="#1c1c1c" stroke-width="0.32">0.0</text>
<line x1="24.8" y1="404.2" x2="27.6" y2="404.2" stroke="#2e2e2e" stroke-width="1"/>
<text x="22" y="406.7" font-size="7.0" text-anchor="end" font-weight="bold" fill="#1c1c1c" stroke="#1c1c1c" stroke-width="0.32">0.2</text>
<line x1="24.8" y1="389.4" x2="27.6" y2="389.4" stroke="#2e2e2e" stroke-width="1"/>
<text x="22" y="391.9" font-size="7.0" text-anchor="end" font-weight="bold" fill="#1c1c1c" stroke="#1c1c1c" stroke-width="0.32">0.4</text>
<line x1="24.8" y1="374.6" x2="27.6" y2="374.6" stroke="#2e2e2e" stroke-width="1"/>
<text x="22" y="377.1" font-size="7.0" text-anchor="end" font-weight="bold" fill="#1c1c1c" stroke="#1c1c1c" stroke-width="0.32">0.6</text>
<line x1="24.8" y1="359.8" x2="27.6" y2="359.8" stroke="#2e2e2e" stroke-width="1"/>
<text x="22" y="362.3" font-size="7.0" text-anchor="end" font-weight="bold" fill="#1c1c1c" stroke="#1c1c1c" stroke-width="0.32">0.8</text>
<line x1="24.8" y1="345" x2="27.6" y2="345" stroke="#2e2e2e" stroke-width="1"/>
<text x="22" y="347.5" font-size="7.0" text-anchor="end" font-weight="bold" fill="#1c1c1c" stroke="#1c1c1c" stroke-width="0.32">1.0</text>
<line x1="24.8" y1="330.2" x2="27.6" y2="330.2" stroke="#2e2e2e" stroke-width="1"/>
<text x="22" y="332.7" font-size="7.0" text-anchor="end" font-weight="bold" fill="#1c1c1c" stroke="#1c1c1c" stroke-width="0.32">1.2</text>
<line x1="24.8" y1="315.4" x2="27.6" y2="315.4" stroke="#2e2e2e" stroke-width="1"/>
<text x="22" y="317.9" font-size="7.0" text-anchor="end" font-weight="bold" fill="#1c1c1c" stroke="#1c1c1c" stroke-width="0.32">1.4</text>
<text x="93" y="305.7" font-size="7.3" text-anchor="middle" fill="#1c1c1c" stroke="#1c1c1c" stroke-width="0.18">p-PDH levels</text>
<text x="-0.3" y="318.5" font-size="9.4" text-anchor="start" fill="#1c1c1c" stroke="#1c1c1c" stroke-width="0.18">h</text>
<text transform="translate(5.2 361) rotate(-90)" font-size="7.0" text-anchor="middle" fill="#1c1c1c" stroke="#1c1c1c" stroke-width="0.18">Normalized intensity (a.u)</text>
<line x1="40.9" y1="320.3" x2="140.2" y2="320.3" stroke="#3a3a3a" stroke-width="1"/>
<line x1="40.2" y1="327.8" x2="81.8" y2="327.8" stroke="#9a9a9a" stroke-width="1.2"/>
<line x1="102.8" y1="332.3" x2="140.2" y2="332.3" stroke="#3a3a3a" stroke-width="1"/>
<text x="90.6" y="318" font-size="7.7" text-anchor="middle" fill="#1c1c1c" stroke="#1c1c1c" stroke-width="0.18">ns</text>
<text x="60.3" y="325.6" font-size="7.7" text-anchor="middle" fill="#1c1c1c" stroke="#1c1c1c" stroke-width="0.18">ns</text>
<text x="120.8" y="330.1" font-size="7.7" text-anchor="middle" fill="#1c1c1c" stroke="#1c1c1c" stroke-width="0.18">ns</text>
<line x1="32.5" y1="421.4" x2="84.4" y2="421.4" stroke="#5a5a5a" stroke-width="1.0"/>
<line x1="96.1" y1="421.4" x2="147.8" y2="421.4" stroke="#5a5a5a" stroke-width="1.0"/>
<text x="58.3" y="429.1" font-size="7.3" text-anchor="middle" fill="#1c1c1c" stroke="#1c1c1c" stroke-width="0.18">Scr siRNA</text>
<text x="122.4" y="429.1" font-size="7.3" text-anchor="middle" fill="#1c1c1c" stroke="#1c1c1c" stroke-width="0.18">+MCU siRNA</text>
</g>
<g>
<line x1="557.5" y1="334.52" x2="557.5" y2="328.99" stroke="#761020" stroke-width="1.15"/>
<line x1="554.9" y1="328.99" x2="560.1" y2="328.99" stroke="#761020" stroke-width="1.1"/>
<path d="M552.5 419V335.02H563.3V419" fill="url(#pr)" stroke="#761020" stroke-width="1"/>
<line x1="570.5" y1="332.82" x2="570.5" y2="327.5" stroke="#ee9234" stroke-width="1.15"/>
<line x1="567.9" y1="327.5" x2="573.1" y2="327.5" stroke="#ee9234" stroke-width="1.1"/>
<path d="M565.5 419V333.32H576.3V419" fill="url(#po)" stroke="#ee9234" stroke-width="1"/>
<line x1="583.5" y1="329.2" x2="583.5" y2="323.67" stroke="#9c9830" stroke-width="1.15"/>
<line x1="580.9" y1="323.67" x2="586.1" y2="323.67" stroke="#9c9830" stroke-width="1.1"/>
<path d="M578.3 419V329.7H589.1V419" fill="url(#pk)" stroke="#9c9830" stroke-width="1"/>
<line x1="596.5" y1="326.43" x2="596.5" y2="321.54" stroke="#1e8c32" stroke-width="1.15"/>
<line x1="593.9" y1="321.54" x2="599.1" y2="321.54" stroke="#1e8c32" stroke-width="1.1"/>
<path d="M591.3 419V326.93H602.1V419" fill="url(#pg)" stroke="#1e8c32" stroke-width="1"/>
<line x1="622.5" y1="337.92" x2="622.5" y2="332.82" stroke="#761020" stroke-width="1.15"/>
<line x1="619.9" y1="332.82" x2="625.1" y2="332.82" stroke="#761020" stroke-width="1.1"/>
<path d="M617.2 419V338.42H628V419" fill="url(#pr)" stroke="#761020" stroke-width="1"/>
<line x1="635.5" y1="345.16" x2="635.5" y2="340.69" stroke="#ee9234" stroke-width="1.15"/>
<line x1="632.9" y1="340.69" x2="638.1" y2="340.69" stroke="#ee9234" stroke-width="1.1"/>
<path d="M630.3 419V345.66H641.1V419" fill="url(#po)" stroke="#ee9234" stroke-width="1"/>
<line x1="648.5" y1="343.67" x2="648.5" y2="339.2" stroke="#cccc3c" stroke-width="1.15"/>
<line x1="645.9" y1="339.2" x2="651.1" y2="339.2" stroke="#cccc3c" stroke-width="1.1"/>
<path d="M643.4 419V344.17H654.2V419" fill="url(#py)" stroke="#cccc3c" stroke-width="1"/>
<line x1="661.5" y1="357.08" x2="661.5" y2="353.46" stroke="#1e8c32" stroke-width="1.15"/>
<line x1="658.9" y1="353.46" x2="664.1" y2="353.46" stroke="#1e8c32" stroke-width="1.1"/>
<path d="M656.4 419V357.58H667.2V419" fill="url(#pg)" stroke="#1e8c32" stroke-width="1"/>
<rect x="546" y="308.2" width="128.3" height="110.8" fill="none" stroke="#2e2e2e" stroke-width="1"/>
<line x1="543.2" y1="419" x2="546" y2="419" stroke="#2e2e2e" stroke-width="1"/>
<text x="540" y="421.5" font-size="7.0" text-anchor="end" font-weight="bold" fill="#1c1c1c" stroke="#1c1c1c" stroke-width="0.32">0</text>
<line x1="543.2" y1="397.72" x2="546" y2="397.72" stroke="#2e2e2e" stroke-width="1"/>
<text x="540" y="400.22" font-size="7.0" text-anchor="end" font-weight="bold" fill="#1c1c1c" stroke="#1c1c1c" stroke-width="0.32">10</text>
<line x1="543.2" y1="376.44" x2="546" y2="376.44" stroke="#2e2e2e" stroke-width="1"/>
<text x="540" y="378.94" font-size="7.0" text-anchor="end" font-weight="bold" fill="#1c1c1c" stroke="#1c1c1c" stroke-width="0.32">20</text>
<line x1="543.2" y1="355.16" x2="546" y2="355.16" stroke="#2e2e2e" stroke-width="1"/>
<text x="540" y="357.66" font-size="7.0" text-anchor="end" font-weight="bold" fill="#1c1c1c" stroke="#1c1c1c" stroke-width="0.32">30</text>
<line x1="543.2" y1="333.88" x2="546" y2="333.88" stroke="#2e2e2e" stroke-width="1"/>
<text x="540" y="336.38" font-size="7.0" text-anchor="end" font-weight="bold" fill="#1c1c1c" stroke="#1c1c1c" stroke-width="0.32">40</text>
<line x1="543.2" y1="312.6" x2="546" y2="312.6" stroke="#2e2e2e" stroke-width="1"/>
<text x="540" y="315.1" font-size="7.0" text-anchor="end" font-weight="bold" fill="#1c1c1c" stroke="#1c1c1c" stroke-width="0.32">50</text>
<text x="617.1" y="303.9" font-size="7.3" text-anchor="middle" fill="#1c1c1c" stroke="#1c1c1c" stroke-width="0.18">Basal OCR</text>
<text x="523.3" y="318.3" font-size="9.4" text-anchor="start" fill="#1c1c1c" stroke="#1c1c1c" stroke-width="0.18">k</text>
<text transform="translate(528 364.8) rotate(-90)" font-size="7.5" text-anchor="middle" fill="#1c1c1c" stroke="#1c1c1c" stroke-width="0.18">OCR (pMol/min)</text>
<line x1="582.5" y1="311.4" x2="647.8" y2="311.4" stroke="#3a3a3a" stroke-width="1"/>
<line x1="558.4" y1="315.5" x2="623.5" y2="315.5" stroke="#3a3a3a" stroke-width="1"/>
<line x1="570.1" y1="319.6" x2="636.6" y2="319.6" stroke="#3a3a3a" stroke-width="1"/>
<text x="617.57" y="313.43" font-size="7.6" text-anchor="middle" fill="#8a8a8a" letter-spacing="0.54" stroke="#8a8a8a" stroke-width="0.4">*</text>
<text x="595.17" y="317.63" font-size="7.6" text-anchor="middle" fill="#b0b0b0" letter-spacing="0.54" stroke="#b0b0b0" stroke-width="0.4">*</text>
<text x="605.87" y="321.53" font-size="7.6" text-anchor="middle" fill="#b0b0b0" letter-spacing="0.54" stroke="#b0b0b0" stroke-width="0.4">*</text>
<text x="570.8" y="339.49" font-size="9" text-anchor="middle" fill="#222" letter-spacing="-0" stroke="#222" stroke-width="0.4">*</text>
<text x="584" y="335.19" font-size="9" text-anchor="middle" fill="#222" letter-spacing="-0" stroke="#222" stroke-width="0.4">*</text>
<text x="596.9" y="333.99" font-size="9" text-anchor="middle" fill="#222" letter-spacing="-0" stroke="#222" stroke-width="0.4">*</text>
<line x1="552.7" y1="421.4" x2="602" y2="421.4" stroke="#5a5a5a" stroke-width="1.0"/>
<line x1="616.5" y1="421.4" x2="669.2" y2="421.4" stroke="#5a5a5a" stroke-width="1.0"/>
<text x="577" y="429.1" font-size="7.3" text-anchor="middle" fill="#1c1c1c" stroke="#1c1c1c" stroke-width="0.18">Scr siRNA</text>
<text x="642.1" y="429.1" font-size="7.3" text-anchor="middle" fill="#1c1c1c" stroke="#1c1c1c" stroke-width="0.18">+MCU siRNA</text>
</g>
<g>
<line x1="42.5" y1="503.18" x2="42.5" y2="499.9" stroke="#761020" stroke-width="1.15"/>
<line x1="39.9" y1="499.9" x2="45.1" y2="499.9" stroke="#761020" stroke-width="1.1"/>
<path d="M37.4 569.4V503.68H48.4V569.4" fill="url(#pr)" stroke="#761020" stroke-width="1"/>
<line x1="56.5" y1="490.4" x2="56.5" y2="484.5" stroke="#ee9234" stroke-width="1.15"/>
<line x1="53.9" y1="484.5" x2="59.1" y2="484.5" stroke="#ee9234" stroke-width="1.1"/>
<path d="M51.1 569.4V490.9H62.1V569.4" fill="url(#po)" stroke="#ee9234" stroke-width="1"/>
<line x1="70.5" y1="491.05" x2="70.5" y2="486.46" stroke="#9c9830" stroke-width="1.15"/>
<line x1="67.9" y1="486.46" x2="73.1" y2="486.46" stroke="#9c9830" stroke-width="1.1"/>
<path d="M64.5 569.4V491.55H75.5V569.4" fill="url(#pk)" stroke="#9c9830" stroke-width="1"/>
<line x1="83.5" y1="483.84" x2="83.5" y2="479.25" stroke="#1e8c32" stroke-width="1.15"/>
<line x1="80.9" y1="479.25" x2="86.1" y2="479.25" stroke="#1e8c32" stroke-width="1.1"/>
<path d="M78.3 569.4V484.34H89.3V569.4" fill="url(#pg)" stroke="#1e8c32" stroke-width="1"/>
<line x1="110.5" y1="495.97" x2="110.5" y2="491.05" stroke="#761020" stroke-width="1.15"/>
<line x1="107.9" y1="491.05" x2="113.1" y2="491.05" stroke="#761020" stroke-width="1.1"/>
<path d="M105 569.4V496.47H116V569.4" fill="url(#pr)" stroke="#761020" stroke-width="1"/>
<line x1="124.5" y1="501.21" x2="124.5" y2="497.28" stroke="#ee9234" stroke-width="1.15"/>
<line x1="121.9" y1="497.28" x2="127.1" y2="497.28" stroke="#ee9234" stroke-width="1.1"/>
<path d="M118.5 569.4V501.71H129.5V569.4" fill="url(#po)" stroke="#ee9234" stroke-width="1"/>
<line x1="137.5" y1="500.56" x2="137.5" y2="496.95" stroke="#cccc3c" stroke-width="1.15"/>
<line x1="134.9" y1="496.95" x2="140.1" y2="496.95" stroke="#cccc3c" stroke-width="1.1"/>
<path d="M132.1 569.4V501.06H143.1V569.4" fill="url(#py)" stroke="#cccc3c" stroke-width="1"/>
<line x1="151.5" y1="516.29" x2="151.5" y2="513.02" stroke="#1e8c32" stroke-width="1.15"/>
<line x1="148.9" y1="513.02" x2="154.1" y2="513.02" stroke="#1e8c32" stroke-width="1.1"/>
<path d="M145.8 569.4V516.79H156.8V569.4" fill="url(#pg)" stroke="#1e8c32" stroke-width="1"/>
<rect x="30.5" y="458.6" width="134.1" height="110.8" fill="none" stroke="#2e2e2e" stroke-width="1"/>
<line x1="27.7" y1="569.4" x2="30.5" y2="569.4" stroke="#2e2e2e" stroke-width="1"/>
<text x="24.4" y="571.9" font-size="7.0" text-anchor="end" font-weight="bold" fill="#1c1c1c" stroke="#1c1c1c" stroke-width="0.32">0</text>
<line x1="27.7" y1="556.29" x2="30.5" y2="556.29" stroke="#2e2e2e" stroke-width="1"/>
<text x="24.4" y="558.79" font-size="7.0" text-anchor="end" font-weight="bold" fill="#1c1c1c" stroke="#1c1c1c" stroke-width="0.32">20</text>
<line x1="27.7" y1="543.17" x2="30.5" y2="543.17" stroke="#2e2e2e" stroke-width="1"/>
<text x="24.4" y="545.67" font-size="7.0" text-anchor="end" font-weight="bold" fill="#1c1c1c" stroke="#1c1c1c" stroke-width="0.32">40</text>
<line x1="27.7" y1="530.06" x2="30.5" y2="530.06" stroke="#2e2e2e" stroke-width="1"/>
<text x="24.4" y="532.56" font-size="7.0" text-anchor="end" font-weight="bold" fill="#1c1c1c" stroke="#1c1c1c" stroke-width="0.32">60</text>
<line x1="27.7" y1="516.95" x2="30.5" y2="516.95" stroke="#2e2e2e" stroke-width="1"/>
<text x="24.4" y="519.45" font-size="7.0" text-anchor="end" font-weight="bold" fill="#1c1c1c" stroke="#1c1c1c" stroke-width="0.32">80</text>
<line x1="27.7" y1="503.84" x2="30.5" y2="503.84" stroke="#2e2e2e" stroke-width="1"/>
<text x="24.4" y="506.34" font-size="7.0" text-anchor="end" font-weight="bold" fill="#1c1c1c" stroke="#1c1c1c" stroke-width="0.32">100</text>
<line x1="27.7" y1="490.72" x2="30.5" y2="490.72" stroke="#2e2e2e" stroke-width="1"/>
<text x="24.4" y="493.22" font-size="7.0" text-anchor="end" font-weight="bold" fill="#1c1c1c" stroke="#1c1c1c" stroke-width="0.32">120</text>
<line x1="27.7" y1="477.61" x2="30.5" y2="477.61" stroke="#2e2e2e" stroke-width="1"/>
<text x="24.4" y="480.11" font-size="7.0" text-anchor="end" font-weight="bold" fill="#1c1c1c" stroke="#1c1c1c" stroke-width="0.32">140</text>
<line x1="27.7" y1="464.5" x2="30.5" y2="464.5" stroke="#2e2e2e" stroke-width="1"/>
<text x="24.4" y="467" font-size="7.0" text-anchor="end" font-weight="bold" fill="#1c1c1c" stroke="#1c1c1c" stroke-width="0.32">160</text>
<text x="106.7" y="454.4" font-size="7.3" text-anchor="middle" fill="#1c1c1c" stroke="#1c1c1c" stroke-width="0.18">Maximal OCR</text>
<text x="1.5" y="459.5" font-size="9.4" text-anchor="start" fill="#1c1c1c" stroke="#1c1c1c" stroke-width="0.18">l</text>
<text transform="translate(6.1 516.5) rotate(-90)" font-size="7.5" text-anchor="middle" fill="#1c1c1c" stroke="#1c1c1c" stroke-width="0.18">OCR (pMol/min)</text>
<line x1="58.3" y1="464.5" x2="122.9" y2="464.5" stroke="#9a9a9a" stroke-width="1.2"/>
<line x1="71.2" y1="470.3" x2="139" y2="470.3" stroke="#3a3a3a" stroke-width="1"/>
<line x1="83.1" y1="475.4" x2="150.9" y2="475.4" stroke="#3a3a3a" stroke-width="1"/>
<text x="89.96" y="466.46" font-size="8.2" text-anchor="middle" fill="#b0b0b0" letter-spacing="0.31" stroke="#b0b0b0" stroke-width="0.4">**</text>
<text x="99.96" y="472.16" font-size="8.2" text-anchor="middle" fill="#8a8a8a" letter-spacing="0.31" stroke="#8a8a8a" stroke-width="0.4">**</text>
<text x="116.86" y="477.56" font-size="8.2" text-anchor="middle" fill="#8a8a8a" letter-spacing="0.31" stroke="#8a8a8a" stroke-width="0.4">***</text>
<text x="56.6" y="485.49" font-size="9" text-anchor="middle" fill="#222" letter-spacing="-0" stroke="#222" stroke-width="0.4">**</text>
<text x="70.5" y="485.49" font-size="9" text-anchor="middle" fill="#222" letter-spacing="-0" stroke="#222" stroke-width="0.4">**</text>
<text x="84.4" y="491.69" font-size="9" text-anchor="middle" fill="#222" letter-spacing="-0" stroke="#222" stroke-width="0.4">**</text>
<line x1="40.2" y1="571.8" x2="94.2" y2="571.8" stroke="#8e8e8e" stroke-width="1.4"/>
<line x1="106.8" y1="571.8" x2="160.8" y2="571.8" stroke="#8e8e8e" stroke-width="1.4"/>
<text x="64.5" y="579.6" font-size="7.3" text-anchor="middle" fill="#1c1c1c" stroke="#1c1c1c" stroke-width="0.18">Scr siRNA</text>
<text x="132.1" y="579.6" font-size="7.3" text-anchor="middle" fill="#1c1c1c" stroke="#1c1c1c" stroke-width="0.18">+MCU siRNA</text>
</g>
<g>
<line x1="231.5" y1="494.28" x2="231.5" y2="491.4" stroke="#761020" stroke-width="1.15"/>
<line x1="228.9" y1="491.4" x2="234.1" y2="491.4" stroke="#761020" stroke-width="1.1"/>
<path d="M225.5 569.4V494.78H236.5V569.4" fill="url(#pr)" stroke="#761020" stroke-width="1"/>
<line x1="244.5" y1="491.62" x2="244.5" y2="489.18" stroke="#ee9234" stroke-width="1.15"/>
<line x1="241.9" y1="489.18" x2="247.1" y2="489.18" stroke="#ee9234" stroke-width="1.1"/>
<path d="M238.9 569.4V492.12H249.9V569.4" fill="url(#po)" stroke="#ee9234" stroke-width="1"/>
<line x1="257.5" y1="476.77" x2="257.5" y2="476.33" stroke="#9c9830" stroke-width="1.15"/>
<line x1="254.9" y1="476.33" x2="260.1" y2="476.33" stroke="#9c9830" stroke-width="1.1"/>
<path d="M252.2 569.4V477.27H263.2V569.4" fill="url(#pk)" stroke="#9c9830" stroke-width="1"/>
<line x1="271.5" y1="484.44" x2="271.5" y2="482.53" stroke="#1e8c32" stroke-width="1.15"/>
<line x1="268.9" y1="482.53" x2="274.1" y2="482.53" stroke="#1e8c32" stroke-width="1.1"/>
<path d="M265.5 569.4V484.94H276.5V569.4" fill="url(#pg)" stroke="#1e8c32" stroke-width="1"/>
<line x1="298.5" y1="512.23" x2="298.5" y2="508.68" stroke="#761020" stroke-width="1.15"/>
<line x1="295.9" y1="508.68" x2="301.1" y2="508.68" stroke="#761020" stroke-width="1.1"/>
<path d="M292.5 569.4V512.73H303.5V569.4" fill="url(#pr)" stroke="#761020" stroke-width="1"/>
<line x1="311.5" y1="519.76" x2="311.5" y2="517.1" stroke="#ee9234" stroke-width="1.15"/>
<line x1="308.9" y1="517.1" x2="314.1" y2="517.1" stroke="#ee9234" stroke-width="1.1"/>
<path d="M306 569.4V520.26H317V569.4" fill="url(#po)" stroke="#ee9234" stroke-width="1"/>
<line x1="325.5" y1="517.1" x2="325.5" y2="513.11" stroke="#cccc3c" stroke-width="1.15"/>
<line x1="322.9" y1="513.11" x2="328.1" y2="513.11" stroke="#cccc3c" stroke-width="1.1"/>
<path d="M319.5 569.4V517.6H330.5V569.4" fill="url(#py)" stroke="#cccc3c" stroke-width="1"/>
<line x1="338.5" y1="522.86" x2="338.5" y2="518.43" stroke="#1e8c32" stroke-width="1.15"/>
<line x1="335.9" y1="518.43" x2="341.1" y2="518.43" stroke="#1e8c32" stroke-width="1.1"/>
<path d="M333.1 569.4V523.36H344.1V569.4" fill="url(#pg)" stroke="#1e8c32" stroke-width="1"/>
<rect x="218.5" y="458.6" width="132.8" height="110.8" fill="none" stroke="#2e2e2e" stroke-width="1"/>
<line x1="215.7" y1="569.4" x2="218.5" y2="569.4" stroke="#2e2e2e" stroke-width="1"/>
<text x="212.2" y="571.9" font-size="7.2" text-anchor="end" font-weight="bold" fill="#1c1c1c" stroke="#1c1c1c" stroke-width="0.32">0.0</text>
<line x1="215.7" y1="547.24" x2="218.5" y2="547.24" stroke="#2e2e2e" stroke-width="1"/>
<text x="212.2" y="549.74" font-size="7.2" text-anchor="end" font-weight="bold" fill="#1c1c1c" stroke="#1c1c1c" stroke-width="0.32">5.0e+4</text>
<line x1="215.7" y1="525.08" x2="218.5" y2="525.08" stroke="#2e2e2e" stroke-width="1"/>
<text x="212.2" y="527.58" font-size="7.2" text-anchor="end" font-weight="bold" fill="#1c1c1c" stroke="#1c1c1c" stroke-width="0.32">1.0e+5</text>
<line x1="215.7" y1="502.92" x2="218.5" y2="502.92" stroke="#2e2e2e" stroke-width="1"/>
<text x="212.2" y="505.42" font-size="7.2" text-anchor="end" font-weight="bold" fill="#1c1c1c" stroke="#1c1c1c" stroke-width="0.32">1.5e+5</text>
<line x1="215.7" y1="480.76" x2="218.5" y2="480.76" stroke="#2e2e2e" stroke-width="1"/>
<text x="212.2" y="483.26" font-size="7.2" text-anchor="end" font-weight="bold" fill="#1c1c1c" stroke="#1c1c1c" stroke-width="0.32">2.0e+5</text>
<line x1="215.7" y1="458.6" x2="218.5" y2="458.6" stroke="#2e2e2e" stroke-width="1"/>
<text x="212.2" y="461.1" font-size="7.2" text-anchor="end" font-weight="bold" fill="#1c1c1c" stroke="#1c1c1c" stroke-width="0.32">2.5e+5</text>
<text x="284.4" y="455.9" font-size="7.3" text-anchor="middle" fill="#1c1c1c" stroke="#1c1c1c" stroke-width="0.18">ATP levels</text>
<text x="178.2" y="460" font-size="9.4" text-anchor="start" fill="#1c1c1c" stroke="#1c1c1c" stroke-width="0.18">m</text>
<text transform="translate(185.7 512) rotate(-90)" font-size="7.5" text-anchor="middle" fill="#1c1c1c" stroke="#1c1c1c" stroke-width="0.18">ATP luminescence</text>
<line x1="275.6" y1="463.4" x2="340" y2="463.4" stroke="#3a3a3a" stroke-width="1"/>
<line x1="244.6" y1="468.6" x2="313.5" y2="468.6" stroke="#9a9a9a" stroke-width="1.2"/>
<line x1="257.2" y1="473.5" x2="325.3" y2="473.5" stroke="#3a3a3a" stroke-width="1"/>
<text x="307.36" y="465.66" font-size="8.2" text-anchor="middle" fill="#8a8a8a" letter-spacing="0.31" stroke="#8a8a8a" stroke-width="0.4">***</text>
<text x="280.26" y="469.76" font-size="8.2" text-anchor="middle" fill="#8a8a8a" letter-spacing="0.31" stroke="#8a8a8a" stroke-width="0.4">***</text>
<text x="293.96" y="475.36" font-size="8.2" text-anchor="middle" fill="#8a8a8a" letter-spacing="0.31" stroke="#8a8a8a" stroke-width="0.4">***</text>
<text x="243.96" y="488.46" font-size="8.2" text-anchor="middle" fill="#8a8a8a" letter-spacing="0.31" stroke="#8a8a8a" stroke-width="0.4">*</text>
<text x="257.8" y="484.99" font-size="9" text-anchor="middle" fill="#3c3c3c" letter-spacing="-0" stroke="#3c3c3c" stroke-width="0.4">**</text>
<text x="271.86" y="483.26" font-size="8.2" text-anchor="middle" fill="#8a8a8a" letter-spacing="0.31" stroke="#8a8a8a" stroke-width="0.4">**</text>
<line x1="227.3" y1="572.2" x2="280.8" y2="572.2" stroke="#8e8e8e" stroke-width="1.4"/>
<line x1="293.3" y1="572.2" x2="346.9" y2="572.2" stroke="#8e8e8e" stroke-width="1.4"/>
<text x="251.2" y="579.6" font-size="7.3" text-anchor="middle" fill="#1c1c1c" stroke="#1c1c1c" stroke-width="0.18">Scr siRNA</text>
<text x="319.8" y="579.6" font-size="7.3" text-anchor="middle" fill="#1c1c1c" stroke="#1c1c1c" stroke-width="0.18">+MCU siRNA</text>
</g>
<g>
<line x1="235.3" y1="314.4" x2="235.3" y2="410" stroke="#e63a46" stroke-width="0.75" stroke-dasharray="2.2 2.2"/>
<line x1="266.7" y1="314.4" x2="266.7" y2="410" stroke="#e63a46" stroke-width="0.75" stroke-dasharray="2.2 2.2"/>
<line x1="296.9" y1="314.4" x2="296.9" y2="410" stroke="#e63a46" stroke-width="0.75" stroke-dasharray="2.2 2.2"/>
<rect x="209.5" y="314.4" width="119.7" height="95.6" fill="none" stroke="#2e2e2e" stroke-width="1"/>
<polyline points="214.7,378.13 224.8,378.66 234.9,379.2 245,393.54 255.1,397.78 265.2,395.66 275.3,343.08 285.4,344.67 295.5,347.33 305.6,399.38 315.7,401.5 325.8,401.5" fill="none" stroke="#8e1a26" stroke-width="0.9"/>
<line x1="214.7" y1="379.2" x2="214.7" y2="377.07" stroke="#8e1a26" stroke-width="0.9"/>
<line x1="212.3" y1="377.07" x2="217.1" y2="377.07" stroke="#8e1a26" stroke-width="0.9"/>
<line x1="212.3" y1="379.2" x2="217.1" y2="379.2" stroke="#8e1a26" stroke-width="0.9"/>
<circle cx="214.7" cy="378.13" r="2.2" fill="#8e1a26"/>
<line x1="224.8" y1="379.73" x2="224.8" y2="377.6" stroke="#8e1a26" stroke-width="0.9"/>
<line x1="222.4" y1="377.6" x2="227.2" y2="377.6" stroke="#8e1a26" stroke-width="0.9"/>
<line x1="222.4" y1="379.73" x2="227.2" y2="379.73" stroke="#8e1a26" stroke-width="0.9"/>
<circle cx="224.8" cy="378.66" r="2.2" fill="#8e1a26"/>
<line x1="234.9" y1="380.26" x2="234.9" y2="378.13" stroke="#8e1a26" stroke-width="0.9"/>
<line x1="232.5" y1="378.13" x2="237.3" y2="378.13" stroke="#8e1a26" stroke-width="0.9"/>
<line x1="232.5" y1="380.26" x2="237.3" y2="380.26" stroke="#8e1a26" stroke-width="0.9"/>
<circle cx="234.9" cy="379.2" r="2.2" fill="#8e1a26"/>
<line x1="245" y1="394.6" x2="245" y2="392.47" stroke="#8e1a26" stroke-width="0.9"/>
<line x1="242.6" y1="392.47" x2="247.4" y2="392.47" stroke="#8e1a26" stroke-width="0.9"/>
<line x1="242.6" y1="394.6" x2="247.4" y2="394.6" stroke="#8e1a26" stroke-width="0.9"/>
<circle cx="245" cy="393.54" r="2.2" fill="#8e1a26"/>
<line x1="255.1" y1="398.58" x2="255.1" y2="396.99" stroke="#8e1a26" stroke-width="0.9"/>
<line x1="252.7" y1="396.99" x2="257.5" y2="396.99" stroke="#8e1a26" stroke-width="0.9"/>
<line x1="252.7" y1="398.58" x2="257.5" y2="398.58" stroke="#8e1a26" stroke-width="0.9"/>
<circle cx="255.1" cy="397.78" r="2.2" fill="#8e1a26"/>
<line x1="265.2" y1="396.72" x2="265.2" y2="394.6" stroke="#8e1a26" stroke-width="0.9"/>
<line x1="262.8" y1="394.6" x2="267.6" y2="394.6" stroke="#8e1a26" stroke-width="0.9"/>
<line x1="262.8" y1="396.72" x2="267.6" y2="396.72" stroke="#8e1a26" stroke-width="0.9"/>
<circle cx="265.2" cy="395.66" r="2.2" fill="#8e1a26"/>
<line x1="275.3" y1="349.98" x2="275.3" y2="336.18" stroke="#8e1a26" stroke-width="0.9"/>
<line x1="272.9" y1="336.18" x2="277.7" y2="336.18" stroke="#8e1a26" stroke-width="0.9"/>
<line x1="272.9" y1="349.98" x2="277.7" y2="349.98" stroke="#8e1a26" stroke-width="0.9"/>
<circle cx="275.3" cy="343.08" r="2.2" fill="#8e1a26"/>
<line x1="285.4" y1="353.17" x2="285.4" y2="336.18" stroke="#8e1a26" stroke-width="0.9"/>
<line x1="283" y1="336.18" x2="287.8" y2="336.18" stroke="#8e1a26" stroke-width="0.9"/>
<line x1="283" y1="353.17" x2="287.8" y2="353.17" stroke="#8e1a26" stroke-width="0.9"/>
<circle cx="285.4" cy="344.67" r="2.2" fill="#8e1a26"/>
<line x1="295.5" y1="355.3" x2="295.5" y2="339.36" stroke="#8e1a26" stroke-width="0.9"/>
<line x1="293.1" y1="339.36" x2="297.9" y2="339.36" stroke="#8e1a26" stroke-width="0.9"/>
<line x1="293.1" y1="355.3" x2="297.9" y2="355.3" stroke="#8e1a26" stroke-width="0.9"/>
<circle cx="295.5" cy="347.33" r="2.2" fill="#8e1a26"/>
<line x1="305.6" y1="400.17" x2="305.6" y2="398.58" stroke="#8e1a26" stroke-width="0.9"/>
<line x1="303.2" y1="398.58" x2="308" y2="398.58" stroke="#8e1a26" stroke-width="0.9"/>
<line x1="303.2" y1="400.17" x2="308" y2="400.17" stroke="#8e1a26" stroke-width="0.9"/>
<circle cx="305.6" cy="399.38" r="2.2" fill="#8e1a26"/>
<line x1="315.7" y1="402.03" x2="315.7" y2="400.97" stroke="#8e1a26" stroke-width="0.9"/>
<line x1="313.3" y1="400.97" x2="318.1" y2="400.97" stroke="#8e1a26" stroke-width="0.9"/>
<line x1="313.3" y1="402.03" x2="318.1" y2="402.03" stroke="#8e1a26" stroke-width="0.9"/>
<circle cx="315.7" cy="401.5" r="2.2" fill="#8e1a26"/>
<line x1="325.8" y1="402.03" x2="325.8" y2="400.97" stroke="#8e1a26" stroke-width="0.9"/>
<line x1="323.4" y1="400.97" x2="328.2" y2="400.97" stroke="#8e1a26" stroke-width="0.9"/>
<line x1="323.4" y1="402.03" x2="328.2" y2="402.03" stroke="#8e1a26" stroke-width="0.9"/>
<circle cx="325.8" cy="401.5" r="2.2" fill="#8e1a26"/>
<polyline points="214.7,379.2 224.8,379.73 234.9,380.26 245,395.13 255.1,397.78 265.2,397.25 275.3,337.24 285.4,336.71 295.5,338.3 305.6,399.91 315.7,401.5 325.8,401.5" fill="none" stroke="#e8962e" stroke-width="0.9"/>
<line x1="214.7" y1="380.79" x2="214.7" y2="377.6" stroke="#e8962e" stroke-width="0.9"/>
<line x1="212.3" y1="377.6" x2="217.1" y2="377.6" stroke="#e8962e" stroke-width="0.9"/>
<line x1="212.3" y1="380.79" x2="217.1" y2="380.79" stroke="#e8962e" stroke-width="0.9"/>
<circle cx="214.7" cy="379.2" r="2.2" fill="#e8962e"/>
<line x1="224.8" y1="381.32" x2="224.8" y2="378.13" stroke="#e8962e" stroke-width="0.9"/>
<line x1="222.4" y1="378.13" x2="227.2" y2="378.13" stroke="#e8962e" stroke-width="0.9"/>
<line x1="222.4" y1="381.32" x2="227.2" y2="381.32" stroke="#e8962e" stroke-width="0.9"/>
<circle cx="224.8" cy="379.73" r="2.2" fill="#e8962e"/>
<line x1="234.9" y1="381.85" x2="234.9" y2="378.66" stroke="#e8962e" stroke-width="0.9"/>
<line x1="232.5" y1="378.66" x2="237.3" y2="378.66" stroke="#e8962e" stroke-width="0.9"/>
<line x1="232.5" y1="381.85" x2="237.3" y2="381.85" stroke="#e8962e" stroke-width="0.9"/>
<circle cx="234.9" cy="380.26" r="2.2" fill="#e8962e"/>
<line x1="245" y1="396.19" x2="245" y2="394.07" stroke="#e8962e" stroke-width="0.9"/>
<line x1="242.6" y1="394.07" x2="247.4" y2="394.07" stroke="#e8962e" stroke-width="0.9"/>
<line x1="242.6" y1="396.19" x2="247.4" y2="396.19" stroke="#e8962e" stroke-width="0.9"/>
<circle cx="245" cy="395.13" r="2.2" fill="#e8962e"/>
<line x1="255.1" y1="398.58" x2="255.1" y2="396.99" stroke="#e8962e" stroke-width="0.9"/>
<line x1="252.7" y1="396.99" x2="257.5" y2="396.99" stroke="#e8962e" stroke-width="0.9"/>
<line x1="252.7" y1="398.58" x2="257.5" y2="398.58" stroke="#e8962e" stroke-width="0.9"/>
<circle cx="255.1" cy="397.78" r="2.2" fill="#e8962e"/>
<line x1="265.2" y1="398.32" x2="265.2" y2="396.19" stroke="#e8962e" stroke-width="0.9"/>
<line x1="262.8" y1="396.19" x2="267.6" y2="396.19" stroke="#e8962e" stroke-width="0.9"/>
<line x1="262.8" y1="398.32" x2="267.6" y2="398.32" stroke="#e8962e" stroke-width="0.9"/>
<circle cx="265.2" cy="397.25" r="2.2" fill="#e8962e"/>
<line x1="275.3" y1="340.96" x2="275.3" y2="333.52" stroke="#e8962e" stroke-width="0.9"/>
<line x1="272.9" y1="333.52" x2="277.7" y2="333.52" stroke="#e8962e" stroke-width="0.9"/>
<line x1="272.9" y1="340.96" x2="277.7" y2="340.96" stroke="#e8962e" stroke-width="0.9"/>
<circle cx="275.3" cy="337.24" r="2.2" fill="#e8962e"/>
<line x1="285.4" y1="340.42" x2="285.4" y2="332.99" stroke="#e8962e" stroke-width="0.9"/>
<line x1="283" y1="332.99" x2="287.8" y2="332.99" stroke="#e8962e" stroke-width="0.9"/>
<line x1="283" y1="340.42" x2="287.8" y2="340.42" stroke="#e8962e" stroke-width="0.9"/>
<circle cx="285.4" cy="336.71" r="2.2" fill="#e8962e"/>
<line x1="295.5" y1="342.02" x2="295.5" y2="334.58" stroke="#e8962e" stroke-width="0.9"/>
<line x1="293.1" y1="334.58" x2="297.9" y2="334.58" stroke="#e8962e" stroke-width="0.9"/>
<line x1="293.1" y1="342.02" x2="297.9" y2="342.02" stroke="#e8962e" stroke-width="0.9"/>
<circle cx="295.5" cy="338.3" r="2.2" fill="#e8962e"/>
<line x1="305.6" y1="400.71" x2="305.6" y2="399.11" stroke="#e8962e" stroke-width="0.9"/>
<line x1="303.2" y1="399.11" x2="308" y2="399.11" stroke="#e8962e" stroke-width="0.9"/>
<line x1="303.2" y1="400.71" x2="308" y2="400.71" stroke="#e8962e" stroke-width="0.9"/>
<circle cx="305.6" cy="399.91" r="2.2" fill="#e8962e"/>
<line x1="315.7" y1="402.03" x2="315.7" y2="400.97" stroke="#e8962e" stroke-width="0.9"/>
<line x1="313.3" y1="400.97" x2="318.1" y2="400.97" stroke="#e8962e" stroke-width="0.9"/>
<line x1="313.3" y1="402.03" x2="318.1" y2="402.03" stroke="#e8962e" stroke-width="0.9"/>
<circle cx="315.7" cy="401.5" r="2.2" fill="#e8962e"/>
<line x1="325.8" y1="402.03" x2="325.8" y2="400.97" stroke="#e8962e" stroke-width="0.9"/>
<line x1="323.4" y1="400.97" x2="328.2" y2="400.97" stroke="#e8962e" stroke-width="0.9"/>
<line x1="323.4" y1="402.03" x2="328.2" y2="402.03" stroke="#e8962e" stroke-width="0.9"/>
<circle cx="325.8" cy="401.5" r="2.2" fill="#e8962e"/>
<polyline points="214.7,378.66 224.8,379.73 234.9,379.73 245,395.13 255.1,397.78 265.2,397.25 275.3,336.18 285.4,335.64 295.5,337.77 305.6,399.91 315.7,401.5 325.8,401.5" fill="none" stroke="#999422" stroke-width="0.9"/>
<line x1="214.7" y1="380.26" x2="214.7" y2="377.07" stroke="#999422" stroke-width="0.9"/>
<line x1="212.3" y1="377.07" x2="217.1" y2="377.07" stroke="#999422" stroke-width="0.9"/>
<line x1="212.3" y1="380.26" x2="217.1" y2="380.26" stroke="#999422" stroke-width="0.9"/>
<circle cx="214.7" cy="378.66" r="2.2" fill="#999422"/>
<line x1="224.8" y1="381.32" x2="224.8" y2="378.13" stroke="#999422" stroke-width="0.9"/>
<line x1="222.4" y1="378.13" x2="227.2" y2="378.13" stroke="#999422" stroke-width="0.9"/>
<line x1="222.4" y1="381.32" x2="227.2" y2="381.32" stroke="#999422" stroke-width="0.9"/>
<circle cx="224.8" cy="379.73" r="2.2" fill="#999422"/>
<line x1="234.9" y1="381.32" x2="234.9" y2="378.13" stroke="#999422" stroke-width="0.9"/>
<line x1="232.5" y1="378.13" x2="237.3" y2="378.13" stroke="#999422" stroke-width="0.9"/>
<line x1="232.5" y1="381.32" x2="237.3" y2="381.32" stroke="#999422" stroke-width="0.9"/>
<circle cx="234.9" cy="379.73" r="2.2" fill="#999422"/>
<line x1="245" y1="396.19" x2="245" y2="394.07" stroke="#999422" stroke-width="0.9"/>
<line x1="242.6" y1="394.07" x2="247.4" y2="394.07" stroke="#999422" stroke-width="0.9"/>
<line x1="242.6" y1="396.19" x2="247.4" y2="396.19" stroke="#999422" stroke-width="0.9"/>
<circle cx="245" cy="395.13" r="2.2" fill="#999422"/>
<line x1="255.1" y1="398.58" x2="255.1" y2="396.99" stroke="#999422" stroke-width="0.9"/>
<line x1="252.7" y1="396.99" x2="257.5" y2="396.99" stroke="#999422" stroke-width="0.9"/>
<line x1="252.7" y1="398.58" x2="257.5" y2="398.58" stroke="#999422" stroke-width="0.9"/>
<circle cx="255.1" cy="397.78" r="2.2" fill="#999422"/>
<line x1="265.2" y1="398.32" x2="265.2" y2="396.19" stroke="#999422" stroke-width="0.9"/>
<line x1="262.8" y1="396.19" x2="267.6" y2="396.19" stroke="#999422" stroke-width="0.9"/>
<line x1="262.8" y1="398.32" x2="267.6" y2="398.32" stroke="#999422" stroke-width="0.9"/>
<circle cx="265.2" cy="397.25" r="2.2" fill="#999422"/>
<line x1="275.3" y1="339.89" x2="275.3" y2="332.46" stroke="#999422" stroke-width="0.9"/>
<line x1="272.9" y1="332.46" x2="277.7" y2="332.46" stroke="#999422" stroke-width="0.9"/>
<line x1="272.9" y1="339.89" x2="277.7" y2="339.89" stroke="#999422" stroke-width="0.9"/>
<circle cx="275.3" cy="336.18" r="2.2" fill="#999422"/>
<line x1="285.4" y1="339.36" x2="285.4" y2="331.93" stroke="#999422" stroke-width="0.9"/>
<line x1="283" y1="331.93" x2="287.8" y2="331.93" stroke="#999422" stroke-width="0.9"/>
<line x1="283" y1="339.36" x2="287.8" y2="339.36" stroke="#999422" stroke-width="0.9"/>
<circle cx="285.4" cy="335.64" r="2.2" fill="#999422"/>
<line x1="295.5" y1="341.49" x2="295.5" y2="334.05" stroke="#999422" stroke-width="0.9"/>
<line x1="293.1" y1="334.05" x2="297.9" y2="334.05" stroke="#999422" stroke-width="0.9"/>
<line x1="293.1" y1="341.49" x2="297.9" y2="341.49" stroke="#999422" stroke-width="0.9"/>
<circle cx="295.5" cy="337.77" r="2.2" fill="#999422"/>
<line x1="305.6" y1="400.71" x2="305.6" y2="399.11" stroke="#999422" stroke-width="0.9"/>
<line x1="303.2" y1="399.11" x2="308" y2="399.11" stroke="#999422" stroke-width="0.9"/>
<line x1="303.2" y1="400.71" x2="308" y2="400.71" stroke="#999422" stroke-width="0.9"/>
<circle cx="305.6" cy="399.91" r="2.2" fill="#999422"/>
<line x1="315.7" y1="402.03" x2="315.7" y2="400.97" stroke="#999422" stroke-width="0.9"/>
<line x1="313.3" y1="400.97" x2="318.1" y2="400.97" stroke="#999422" stroke-width="0.9"/>
<line x1="313.3" y1="402.03" x2="318.1" y2="402.03" stroke="#999422" stroke-width="0.9"/>
<circle cx="315.7" cy="401.5" r="2.2" fill="#999422"/>
<line x1="325.8" y1="402.03" x2="325.8" y2="400.97" stroke="#999422" stroke-width="0.9"/>
<line x1="323.4" y1="400.97" x2="328.2" y2="400.97" stroke="#999422" stroke-width="0.9"/>
<line x1="323.4" y1="402.03" x2="328.2" y2="402.03" stroke="#999422" stroke-width="0.9"/>
<circle cx="325.8" cy="401.5" r="2.2" fill="#999422"/>
<polyline points="214.7,376.01 224.8,377.6 234.9,379.2 245,395.66 255.1,398.32 265.2,397.78 275.3,331.4 285.4,330.33 295.5,331.93 305.6,400.44 315.7,402.03 325.8,402.03" fill="none" stroke="#1f8f2a" stroke-width="0.9"/>
<line x1="214.7" y1="377.07" x2="214.7" y2="374.95" stroke="#1f8f2a" stroke-width="0.9"/>
<line x1="212.3" y1="374.95" x2="217.1" y2="374.95" stroke="#1f8f2a" stroke-width="0.9"/>
<line x1="212.3" y1="377.07" x2="217.1" y2="377.07" stroke="#1f8f2a" stroke-width="0.9"/>
<circle cx="214.7" cy="376.01" r="2.2" fill="#1f8f2a"/>
<line x1="224.8" y1="379.2" x2="224.8" y2="376.01" stroke="#1f8f2a" stroke-width="0.9"/>
<line x1="222.4" y1="376.01" x2="227.2" y2="376.01" stroke="#1f8f2a" stroke-width="0.9"/>
<line x1="222.4" y1="379.2" x2="227.2" y2="379.2" stroke="#1f8f2a" stroke-width="0.9"/>
<circle cx="224.8" cy="377.6" r="2.2" fill="#1f8f2a"/>
<line x1="234.9" y1="381.32" x2="234.9" y2="377.07" stroke="#1f8f2a" stroke-width="0.9"/>
<line x1="232.5" y1="377.07" x2="237.3" y2="377.07" stroke="#1f8f2a" stroke-width="0.9"/>
<line x1="232.5" y1="381.32" x2="237.3" y2="381.32" stroke="#1f8f2a" stroke-width="0.9"/>
<circle cx="234.9" cy="379.2" r="2.2" fill="#1f8f2a"/>
<line x1="245" y1="396.72" x2="245" y2="394.6" stroke="#1f8f2a" stroke-width="0.9"/>
<line x1="242.6" y1="394.6" x2="247.4" y2="394.6" stroke="#1f8f2a" stroke-width="0.9"/>
<line x1="242.6" y1="396.72" x2="247.4" y2="396.72" stroke="#1f8f2a" stroke-width="0.9"/>
<circle cx="245" cy="395.66" r="2.2" fill="#1f8f2a"/>
<line x1="255.1" y1="399.11" x2="255.1" y2="397.52" stroke="#1f8f2a" stroke-width="0.9"/>
<line x1="252.7" y1="397.52" x2="257.5" y2="397.52" stroke="#1f8f2a" stroke-width="0.9"/>
<line x1="252.7" y1="399.11" x2="257.5" y2="399.11" stroke="#1f8f2a" stroke-width="0.9"/>
<circle cx="255.1" cy="398.32" r="2.2" fill="#1f8f2a"/>
<line x1="265.2" y1="398.85" x2="265.2" y2="396.72" stroke="#1f8f2a" stroke-width="0.9"/>
<line x1="262.8" y1="396.72" x2="267.6" y2="396.72" stroke="#1f8f2a" stroke-width="0.9"/>
<line x1="262.8" y1="398.85" x2="267.6" y2="398.85" stroke="#1f8f2a" stroke-width="0.9"/>
<circle cx="265.2" cy="397.78" r="2.2" fill="#1f8f2a"/>
<line x1="275.3" y1="335.11" x2="275.3" y2="327.68" stroke="#1f8f2a" stroke-width="0.9"/>
<line x1="272.9" y1="327.68" x2="277.7" y2="327.68" stroke="#1f8f2a" stroke-width="0.9"/>
<line x1="272.9" y1="335.11" x2="277.7" y2="335.11" stroke="#1f8f2a" stroke-width="0.9"/>
<circle cx="275.3" cy="331.4" r="2.2" fill="#1f8f2a"/>
<line x1="285.4" y1="334.05" x2="285.4" y2="326.62" stroke="#1f8f2a" stroke-width="0.9"/>
<line x1="283" y1="326.62" x2="287.8" y2="326.62" stroke="#1f8f2a" stroke-width="0.9"/>
<line x1="283" y1="334.05" x2="287.8" y2="334.05" stroke="#1f8f2a" stroke-width="0.9"/>
<circle cx="285.4" cy="330.33" r="2.2" fill="#1f8f2a"/>
<line x1="295.5" y1="335.11" x2="295.5" y2="328.74" stroke="#1f8f2a" stroke-width="0.9"/>
<line x1="293.1" y1="328.74" x2="297.9" y2="328.74" stroke="#1f8f2a" stroke-width="0.9"/>
<line x1="293.1" y1="335.11" x2="297.9" y2="335.11" stroke="#1f8f2a" stroke-width="0.9"/>
<circle cx="295.5" cy="331.93" r="2.2" fill="#1f8f2a"/>
<line x1="305.6" y1="401.24" x2="305.6" y2="399.64" stroke="#1f8f2a" stroke-width="0.9"/>
<line x1="303.2" y1="399.64" x2="308" y2="399.64" stroke="#1f8f2a" stroke-width="0.9"/>
<line x1="303.2" y1="401.24" x2="308" y2="401.24" stroke="#1f8f2a" stroke-width="0.9"/>
<circle cx="305.6" cy="400.44" r="2.2" fill="#1f8f2a"/>
<line x1="315.7" y1="402.56" x2="315.7" y2="401.5" stroke="#1f8f2a" stroke-width="0.9"/>
<line x1="313.3" y1="401.5" x2="318.1" y2="401.5" stroke="#1f8f2a" stroke-width="0.9"/>
<line x1="313.3" y1="402.56" x2="318.1" y2="402.56" stroke="#1f8f2a" stroke-width="0.9"/>
<circle cx="315.7" cy="402.03" r="2.2" fill="#1f8f2a"/>
<line x1="325.8" y1="402.56" x2="325.8" y2="401.5" stroke="#1f8f2a" stroke-width="0.9"/>
<line x1="323.4" y1="401.5" x2="328.2" y2="401.5" stroke="#1f8f2a" stroke-width="0.9"/>
<line x1="323.4" y1="402.56" x2="328.2" y2="402.56" stroke="#1f8f2a" stroke-width="0.9"/>
<circle cx="325.8" cy="402.03" r="2.2" fill="#1f8f2a"/>
<line x1="206.7" y1="410" x2="209.5" y2="410" stroke="#2e2e2e" stroke-width="1"/>
<text x="202.6" y="412.8" font-size="7.9" text-anchor="end" font-weight="bold" fill="#1c1c1c" stroke="#1c1c1c" stroke-width="0.32">0</text>
<line x1="206.7" y1="399.38" x2="209.5" y2="399.38" stroke="#2e2e2e" stroke-width="1"/>
<text x="202.6" y="402.18" font-size="7.9" text-anchor="end" font-weight="bold" fill="#1c1c1c" stroke="#1c1c1c" stroke-width="0.32">20</text>
<line x1="206.7" y1="388.76" x2="209.5" y2="388.76" stroke="#2e2e2e" stroke-width="1"/>
<text x="202.6" y="391.56" font-size="7.9" text-anchor="end" font-weight="bold" fill="#1c1c1c" stroke="#1c1c1c" stroke-width="0.32">40</text>
<line x1="206.7" y1="378.13" x2="209.5" y2="378.13" stroke="#2e2e2e" stroke-width="1"/>
<text x="202.6" y="380.93" font-size="7.9" text-anchor="end" font-weight="bold" fill="#1c1c1c" stroke="#1c1c1c" stroke-width="0.32">60</text>
<line x1="206.7" y1="367.51" x2="209.5" y2="367.51" stroke="#2e2e2e" stroke-width="1"/>
<text x="202.6" y="370.31" font-size="7.9" text-anchor="end" font-weight="bold" fill="#1c1c1c" stroke="#1c1c1c" stroke-width="0.32">80</text>
<line x1="206.7" y1="356.89" x2="209.5" y2="356.89" stroke="#2e2e2e" stroke-width="1"/>
<text x="202.6" y="359.69" font-size="7.9" text-anchor="end" font-weight="bold" fill="#1c1c1c" stroke="#1c1c1c" stroke-width="0.32">100</text>
<line x1="206.7" y1="346.27" x2="209.5" y2="346.27" stroke="#2e2e2e" stroke-width="1"/>
<text x="202.6" y="349.07" font-size="7.9" text-anchor="end" font-weight="bold" fill="#1c1c1c" stroke="#1c1c1c" stroke-width="0.32">120</text>
<line x1="206.7" y1="335.64" x2="209.5" y2="335.64" stroke="#2e2e2e" stroke-width="1"/>
<text x="202.6" y="338.44" font-size="7.9" text-anchor="end" font-weight="bold" fill="#1c1c1c" stroke="#1c1c1c" stroke-width="0.32">140</text>
<line x1="206.7" y1="325.02" x2="209.5" y2="325.02" stroke="#2e2e2e" stroke-width="1"/>
<text x="202.6" y="327.82" font-size="7.9" text-anchor="end" font-weight="bold" fill="#1c1c1c" stroke="#1c1c1c" stroke-width="0.32">160</text>
<line x1="206.7" y1="314.4" x2="209.5" y2="314.4" stroke="#2e2e2e" stroke-width="1"/>
<text x="202.6" y="317.2" font-size="7.9" text-anchor="end" font-weight="bold" fill="#1c1c1c" stroke="#1c1c1c" stroke-width="0.32">180</text>
<line x1="212.65" y1="410" x2="212.65" y2="412.8" stroke="#2e2e2e" stroke-width="1"/>
<text x="212.65" y="423.6" font-size="7.7" text-anchor="middle" font-weight="bold" fill="#1c1c1c" stroke="#1c1c1c" stroke-width="0.32">0</text>
<line x1="231.62" y1="410" x2="231.62" y2="412.8" stroke="#2e2e2e" stroke-width="1"/>
<text x="231.62" y="423.6" font-size="7.7" text-anchor="middle" font-weight="bold" fill="#1c1c1c" stroke="#1c1c1c" stroke-width="0.32">7</text>
<line x1="250.58" y1="410" x2="250.58" y2="412.8" stroke="#2e2e2e" stroke-width="1"/>
<text x="250.58" y="423.6" font-size="7.7" text-anchor="middle" font-weight="bold" fill="#1c1c1c" stroke="#1c1c1c" stroke-width="0.32">14</text>
<line x1="269.55" y1="410" x2="269.55" y2="412.8" stroke="#2e2e2e" stroke-width="1"/>
<text x="269.55" y="423.6" font-size="7.7" text-anchor="middle" font-weight="bold" fill="#1c1c1c" stroke="#1c1c1c" stroke-width="0.32">21</text>
<line x1="288.52" y1="410" x2="288.52" y2="412.8" stroke="#2e2e2e" stroke-width="1"/>
<text x="288.52" y="423.6" font-size="7.7" text-anchor="middle" font-weight="bold" fill="#1c1c1c" stroke="#1c1c1c" stroke-width="0.32">28</text>
<line x1="307.48" y1="410" x2="307.48" y2="412.8" stroke="#2e2e2e" stroke-width="1"/>
<text x="307.48" y="423.6" font-size="7.7" text-anchor="middle" font-weight="bold" fill="#1c1c1c" stroke="#1c1c1c" stroke-width="0.32">35</text>
<line x1="326.45" y1="410" x2="326.45" y2="412.8" stroke="#2e2e2e" stroke-width="1"/>
<text x="326.45" y="423.6" font-size="7.7" text-anchor="middle" font-weight="bold" fill="#1c1c1c" stroke="#1c1c1c" stroke-width="0.32">42</text>
<text x="274.3" y="431.8" font-size="8.4" text-anchor="middle" fill="#1c1c1c" stroke="#1c1c1c" stroke-width="0.18">Time (min)</text>
<text x="271.5" y="310.5" font-size="7.3" text-anchor="middle" fill="#1c1c1c" stroke="#1c1c1c" stroke-width="0.18">Scr siRNA</text>
<text x="181.3" y="319.3" font-size="9.4" text-anchor="start" fill="#1c1c1c" stroke="#1c1c1c" stroke-width="0.18">i</text>
<text transform="translate(184.9 360.2) rotate(-90)" font-size="7.4" text-anchor="middle" fill="#1c1c1c" stroke="#1c1c1c" stroke-width="0.18">OCR (pMol/min)</text>
<text x="237.2" y="321.7" font-size="7" text-anchor="start" font-weight="bold" fill="#1c1c1c" stroke="#1c1c1c" stroke-width="0.32">A</text>
<text x="268.4" y="321.7" font-size="7" text-anchor="start" font-weight="bold" fill="#1c1c1c" stroke="#1c1c1c" stroke-width="0.32">B</text>
<text x="298.6" y="321.7" font-size="7" text-anchor="start" font-weight="bold" fill="#1c1c1c" stroke="#1c1c1c" stroke-width="0.32">C</text>
</g>
<g>
<line x1="406.3" y1="315" x2="406.3" y2="410.5" stroke="#e63a46" stroke-width="0.75" stroke-dasharray="2.2 2.2"/>
<line x1="437.7" y1="315" x2="437.7" y2="410.5" stroke="#e63a46" stroke-width="0.75" stroke-dasharray="2.2 2.2"/>
<line x1="467.6" y1="315" x2="467.6" y2="410.5" stroke="#e63a46" stroke-width="0.75" stroke-dasharray="2.2 2.2"/>
<rect x="381.5" y="315" width="119" height="95.5" fill="none" stroke="#2e2e2e" stroke-width="1"/>
<polyline points="386.2,377.07 396.3,378.87 406.4,380.06 416.5,397.37 426.6,400.35 436.7,399.76 446.8,334.7 456.9,334.1 467,335.89 477.1,402.14 487.2,403.34 497.3,403.34" fill="none" stroke="#8e1a26" stroke-width="0.9"/>
<line x1="386.2" y1="378.57" x2="386.2" y2="375.58" stroke="#8e1a26" stroke-width="0.9"/>
<line x1="383.8" y1="375.58" x2="388.6" y2="375.58" stroke="#8e1a26" stroke-width="0.9"/>
<line x1="383.8" y1="378.57" x2="388.6" y2="378.57" stroke="#8e1a26" stroke-width="0.9"/>
<circle cx="386.2" cy="377.07" r="2.2" fill="#8e1a26"/>
<line x1="396.3" y1="380.36" x2="396.3" y2="377.37" stroke="#8e1a26" stroke-width="0.9"/>
<line x1="393.9" y1="377.37" x2="398.7" y2="377.37" stroke="#8e1a26" stroke-width="0.9"/>
<line x1="393.9" y1="380.36" x2="398.7" y2="380.36" stroke="#8e1a26" stroke-width="0.9"/>
<circle cx="396.3" cy="378.87" r="2.2" fill="#8e1a26"/>
<line x1="406.4" y1="381.85" x2="406.4" y2="378.27" stroke="#8e1a26" stroke-width="0.9"/>
<line x1="404" y1="378.27" x2="408.8" y2="378.27" stroke="#8e1a26" stroke-width="0.9"/>
<line x1="404" y1="381.85" x2="408.8" y2="381.85" stroke="#8e1a26" stroke-width="0.9"/>
<circle cx="406.4" cy="380.06" r="2.2" fill="#8e1a26"/>
<line x1="416.5" y1="398.56" x2="416.5" y2="396.18" stroke="#8e1a26" stroke-width="0.9"/>
<line x1="414.1" y1="396.18" x2="418.9" y2="396.18" stroke="#8e1a26" stroke-width="0.9"/>
<line x1="414.1" y1="398.56" x2="418.9" y2="398.56" stroke="#8e1a26" stroke-width="0.9"/>
<circle cx="416.5" cy="397.37" r="2.2" fill="#8e1a26"/>
<line x1="426.6" y1="401.25" x2="426.6" y2="399.46" stroke="#8e1a26" stroke-width="0.9"/>
<line x1="424.2" y1="399.46" x2="429" y2="399.46" stroke="#8e1a26" stroke-width="0.9"/>
<line x1="424.2" y1="401.25" x2="429" y2="401.25" stroke="#8e1a26" stroke-width="0.9"/>
<circle cx="426.6" cy="400.35" r="2.2" fill="#8e1a26"/>
<line x1="436.7" y1="400.95" x2="436.7" y2="398.56" stroke="#8e1a26" stroke-width="0.9"/>
<line x1="434.3" y1="398.56" x2="439.1" y2="398.56" stroke="#8e1a26" stroke-width="0.9"/>
<line x1="434.3" y1="400.95" x2="439.1" y2="400.95" stroke="#8e1a26" stroke-width="0.9"/>
<circle cx="436.7" cy="399.76" r="2.2" fill="#8e1a26"/>
<line x1="446.8" y1="339.47" x2="446.8" y2="329.92" stroke="#8e1a26" stroke-width="0.9"/>
<line x1="444.4" y1="329.92" x2="449.2" y2="329.92" stroke="#8e1a26" stroke-width="0.9"/>
<line x1="444.4" y1="339.47" x2="449.2" y2="339.47" stroke="#8e1a26" stroke-width="0.9"/>
<circle cx="446.8" cy="334.7" r="2.2" fill="#8e1a26"/>
<line x1="456.9" y1="338.88" x2="456.9" y2="329.32" stroke="#8e1a26" stroke-width="0.9"/>
<line x1="454.5" y1="329.32" x2="459.3" y2="329.32" stroke="#8e1a26" stroke-width="0.9"/>
<line x1="454.5" y1="338.88" x2="459.3" y2="338.88" stroke="#8e1a26" stroke-width="0.9"/>
<circle cx="456.9" cy="334.1" r="2.2" fill="#8e1a26"/>
<line x1="467" y1="340.67" x2="467" y2="331.12" stroke="#8e1a26" stroke-width="0.9"/>
<line x1="464.6" y1="331.12" x2="469.4" y2="331.12" stroke="#8e1a26" stroke-width="0.9"/>
<line x1="464.6" y1="340.67" x2="469.4" y2="340.67" stroke="#8e1a26" stroke-width="0.9"/>
<circle cx="467" cy="335.89" r="2.2" fill="#8e1a26"/>
<line x1="477.1" y1="403.04" x2="477.1" y2="401.25" stroke="#8e1a26" stroke-width="0.9"/>
<line x1="474.7" y1="401.25" x2="479.5" y2="401.25" stroke="#8e1a26" stroke-width="0.9"/>
<line x1="474.7" y1="403.04" x2="479.5" y2="403.04" stroke="#8e1a26" stroke-width="0.9"/>
<circle cx="477.1" cy="402.14" r="2.2" fill="#8e1a26"/>
<line x1="487.2" y1="403.93" x2="487.2" y2="402.74" stroke="#8e1a26" stroke-width="0.9"/>
<line x1="484.8" y1="402.74" x2="489.6" y2="402.74" stroke="#8e1a26" stroke-width="0.9"/>
<line x1="484.8" y1="403.93" x2="489.6" y2="403.93" stroke="#8e1a26" stroke-width="0.9"/>
<circle cx="487.2" cy="403.34" r="2.2" fill="#8e1a26"/>
<line x1="497.3" y1="403.93" x2="497.3" y2="402.74" stroke="#8e1a26" stroke-width="0.9"/>
<line x1="494.9" y1="402.74" x2="499.7" y2="402.74" stroke="#8e1a26" stroke-width="0.9"/>
<line x1="494.9" y1="403.93" x2="499.7" y2="403.93" stroke="#8e1a26" stroke-width="0.9"/>
<circle cx="497.3" cy="403.34" r="2.2" fill="#8e1a26"/>
<polyline points="386.2,379.46 396.3,380.06 406.4,381.25 416.5,397.37 426.6,400.35 436.7,399.76 446.8,335.29 456.9,336.49 467,340.67 477.1,402.14 487.2,403.34 497.3,403.34" fill="none" stroke="#e8962e" stroke-width="0.9"/>
<line x1="386.2" y1="381.25" x2="386.2" y2="377.67" stroke="#e8962e" stroke-width="0.9"/>
<line x1="383.8" y1="377.67" x2="388.6" y2="377.67" stroke="#e8962e" stroke-width="0.9"/>
<line x1="383.8" y1="381.25" x2="388.6" y2="381.25" stroke="#e8962e" stroke-width="0.9"/>
<circle cx="386.2" cy="379.46" r="2.2" fill="#e8962e"/>
<line x1="396.3" y1="381.85" x2="396.3" y2="378.27" stroke="#e8962e" stroke-width="0.9"/>
<line x1="393.9" y1="378.27" x2="398.7" y2="378.27" stroke="#e8962e" stroke-width="0.9"/>
<line x1="393.9" y1="381.85" x2="398.7" y2="381.85" stroke="#e8962e" stroke-width="0.9"/>
<circle cx="396.3" cy="380.06" r="2.2" fill="#e8962e"/>
<line x1="406.4" y1="383.64" x2="406.4" y2="378.87" stroke="#e8962e" stroke-width="0.9"/>
<line x1="404" y1="378.87" x2="408.8" y2="378.87" stroke="#e8962e" stroke-width="0.9"/>
<line x1="404" y1="383.64" x2="408.8" y2="383.64" stroke="#e8962e" stroke-width="0.9"/>
<circle cx="406.4" cy="381.25" r="2.2" fill="#e8962e"/>
<line x1="416.5" y1="398.56" x2="416.5" y2="396.18" stroke="#e8962e" stroke-width="0.9"/>
<line x1="414.1" y1="396.18" x2="418.9" y2="396.18" stroke="#e8962e" stroke-width="0.9"/>
<line x1="414.1" y1="398.56" x2="418.9" y2="398.56" stroke="#e8962e" stroke-width="0.9"/>
<circle cx="416.5" cy="397.37" r="2.2" fill="#e8962e"/>
<line x1="426.6" y1="401.25" x2="426.6" y2="399.46" stroke="#e8962e" stroke-width="0.9"/>
<line x1="424.2" y1="399.46" x2="429" y2="399.46" stroke="#e8962e" stroke-width="0.9"/>
<line x1="424.2" y1="401.25" x2="429" y2="401.25" stroke="#e8962e" stroke-width="0.9"/>
<circle cx="426.6" cy="400.35" r="2.2" fill="#e8962e"/>
<line x1="436.7" y1="400.95" x2="436.7" y2="398.56" stroke="#e8962e" stroke-width="0.9"/>
<line x1="434.3" y1="398.56" x2="439.1" y2="398.56" stroke="#e8962e" stroke-width="0.9"/>
<line x1="434.3" y1="400.95" x2="439.1" y2="400.95" stroke="#e8962e" stroke-width="0.9"/>
<circle cx="436.7" cy="399.76" r="2.2" fill="#e8962e"/>
<line x1="446.8" y1="340.67" x2="446.8" y2="329.92" stroke="#e8962e" stroke-width="0.9"/>
<line x1="444.4" y1="329.92" x2="449.2" y2="329.92" stroke="#e8962e" stroke-width="0.9"/>
<line x1="444.4" y1="340.67" x2="449.2" y2="340.67" stroke="#e8962e" stroke-width="0.9"/>
<circle cx="446.8" cy="335.29" r="2.2" fill="#e8962e"/>
<line x1="456.9" y1="341.26" x2="456.9" y2="331.71" stroke="#e8962e" stroke-width="0.9"/>
<line x1="454.5" y1="331.71" x2="459.3" y2="331.71" stroke="#e8962e" stroke-width="0.9"/>
<line x1="454.5" y1="341.26" x2="459.3" y2="341.26" stroke="#e8962e" stroke-width="0.9"/>
<circle cx="456.9" cy="336.49" r="2.2" fill="#e8962e"/>
<line x1="467" y1="345.44" x2="467" y2="335.89" stroke="#e8962e" stroke-width="0.9"/>
<line x1="464.6" y1="335.89" x2="469.4" y2="335.89" stroke="#e8962e" stroke-width="0.9"/>
<line x1="464.6" y1="345.44" x2="469.4" y2="345.44" stroke="#e8962e" stroke-width="0.9"/>
<circle cx="467" cy="340.67" r="2.2" fill="#e8962e"/>
<line x1="477.1" y1="403.04" x2="477.1" y2="401.25" stroke="#e8962e" stroke-width="0.9"/>
<line x1="474.7" y1="401.25" x2="479.5" y2="401.25" stroke="#e8962e" stroke-width="0.9"/>
<line x1="474.7" y1="403.04" x2="479.5" y2="403.04" stroke="#e8962e" stroke-width="0.9"/>
<circle cx="477.1" cy="402.14" r="2.2" fill="#e8962e"/>
<line x1="487.2" y1="404.23" x2="487.2" y2="402.44" stroke="#e8962e" stroke-width="0.9"/>
<line x1="484.8" y1="402.44" x2="489.6" y2="402.44" stroke="#e8962e" stroke-width="0.9"/>
<line x1="484.8" y1="404.23" x2="489.6" y2="404.23" stroke="#e8962e" stroke-width="0.9"/>
<circle cx="487.2" cy="403.34" r="2.2" fill="#e8962e"/>
<line x1="497.3" y1="404.23" x2="497.3" y2="402.44" stroke="#e8962e" stroke-width="0.9"/>
<line x1="494.9" y1="402.44" x2="499.7" y2="402.44" stroke="#e8962e" stroke-width="0.9"/>
<line x1="494.9" y1="404.23" x2="499.7" y2="404.23" stroke="#e8962e" stroke-width="0.9"/>
<circle cx="497.3" cy="403.34" r="2.2" fill="#e8962e"/>
<polyline points="386.2,380.06 396.3,380.66 406.4,382.45 416.5,397.97 426.6,400.95 436.7,400.35 446.8,335.29 456.9,337.68 467,341.26 477.1,402.74 487.2,403.93 497.3,403.93" fill="none" stroke="#999422" stroke-width="0.9"/>
<line x1="386.2" y1="381.25" x2="386.2" y2="378.87" stroke="#999422" stroke-width="0.9"/>
<line x1="383.8" y1="378.87" x2="388.6" y2="378.87" stroke="#999422" stroke-width="0.9"/>
<line x1="383.8" y1="381.25" x2="388.6" y2="381.25" stroke="#999422" stroke-width="0.9"/>
<circle cx="386.2" cy="380.06" r="2.2" fill="#999422"/>
<line x1="396.3" y1="381.85" x2="396.3" y2="379.46" stroke="#999422" stroke-width="0.9"/>
<line x1="393.9" y1="379.46" x2="398.7" y2="379.46" stroke="#999422" stroke-width="0.9"/>
<line x1="393.9" y1="381.85" x2="398.7" y2="381.85" stroke="#999422" stroke-width="0.9"/>
<circle cx="396.3" cy="380.66" r="2.2" fill="#999422"/>
<line x1="406.4" y1="384.24" x2="406.4" y2="380.66" stroke="#999422" stroke-width="0.9"/>
<line x1="404" y1="380.66" x2="408.8" y2="380.66" stroke="#999422" stroke-width="0.9"/>
<line x1="404" y1="384.24" x2="408.8" y2="384.24" stroke="#999422" stroke-width="0.9"/>
<circle cx="406.4" cy="382.45" r="2.2" fill="#999422"/>
<line x1="416.5" y1="399.16" x2="416.5" y2="396.77" stroke="#999422" stroke-width="0.9"/>
<line x1="414.1" y1="396.77" x2="418.9" y2="396.77" stroke="#999422" stroke-width="0.9"/>
<line x1="414.1" y1="399.16" x2="418.9" y2="399.16" stroke="#999422" stroke-width="0.9"/>
<circle cx="416.5" cy="397.97" r="2.2" fill="#999422"/>
<line x1="426.6" y1="401.85" x2="426.6" y2="400.05" stroke="#999422" stroke-width="0.9"/>
<line x1="424.2" y1="400.05" x2="429" y2="400.05" stroke="#999422" stroke-width="0.9"/>
<line x1="424.2" y1="401.85" x2="429" y2="401.85" stroke="#999422" stroke-width="0.9"/>
<circle cx="426.6" cy="400.95" r="2.2" fill="#999422"/>
<line x1="436.7" y1="401.55" x2="436.7" y2="399.16" stroke="#999422" stroke-width="0.9"/>
<line x1="434.3" y1="399.16" x2="439.1" y2="399.16" stroke="#999422" stroke-width="0.9"/>
<line x1="434.3" y1="401.55" x2="439.1" y2="401.55" stroke="#999422" stroke-width="0.9"/>
<circle cx="436.7" cy="400.35" r="2.2" fill="#999422"/>
<line x1="446.8" y1="340.07" x2="446.8" y2="330.52" stroke="#999422" stroke-width="0.9"/>
<line x1="444.4" y1="330.52" x2="449.2" y2="330.52" stroke="#999422" stroke-width="0.9"/>
<line x1="444.4" y1="340.07" x2="449.2" y2="340.07" stroke="#999422" stroke-width="0.9"/>
<circle cx="446.8" cy="335.29" r="2.2" fill="#999422"/>
<line x1="456.9" y1="341.26" x2="456.9" y2="334.1" stroke="#999422" stroke-width="0.9"/>
<line x1="454.5" y1="334.1" x2="459.3" y2="334.1" stroke="#999422" stroke-width="0.9"/>
<line x1="454.5" y1="341.26" x2="459.3" y2="341.26" stroke="#999422" stroke-width="0.9"/>
<circle cx="456.9" cy="337.68" r="2.2" fill="#999422"/>
<line x1="467" y1="345.44" x2="467" y2="337.08" stroke="#999422" stroke-width="0.9"/>
<line x1="464.6" y1="337.08" x2="469.4" y2="337.08" stroke="#999422" stroke-width="0.9"/>
<line x1="464.6" y1="345.44" x2="469.4" y2="345.44" stroke="#999422" stroke-width="0.9"/>
<circle cx="467" cy="341.26" r="2.2" fill="#999422"/>
<line x1="477.1" y1="403.64" x2="477.1" y2="401.85" stroke="#999422" stroke-width="0.9"/>
<line x1="474.7" y1="401.85" x2="479.5" y2="401.85" stroke="#999422" stroke-width="0.9"/>
<line x1="474.7" y1="403.64" x2="479.5" y2="403.64" stroke="#999422" stroke-width="0.9"/>
<circle cx="477.1" cy="402.74" r="2.2" fill="#999422"/>
<line x1="487.2" y1="404.53" x2="487.2" y2="403.34" stroke="#999422" stroke-width="0.9"/>
<line x1="484.8" y1="403.34" x2="489.6" y2="403.34" stroke="#999422" stroke-width="0.9"/>
<line x1="484.8" y1="404.53" x2="489.6" y2="404.53" stroke="#999422" stroke-width="0.9"/>
<circle cx="487.2" cy="403.93" r="2.2" fill="#999422"/>
<line x1="497.3" y1="404.53" x2="497.3" y2="403.34" stroke="#999422" stroke-width="0.9"/>
<line x1="494.9" y1="403.34" x2="499.7" y2="403.34" stroke="#999422" stroke-width="0.9"/>
<line x1="494.9" y1="404.53" x2="499.7" y2="404.53" stroke="#999422" stroke-width="0.9"/>
<circle cx="497.3" cy="403.93" r="2.2" fill="#999422"/>
<polyline points="386.2,384.83 396.3,386.03 406.4,387.22 416.5,399.76 426.6,402.14 436.7,401.55 446.8,346.63 456.9,350.81 467,355.59 477.1,403.34 487.2,404.53 497.3,404.53" fill="none" stroke="#1f8f2a" stroke-width="0.9"/>
<line x1="386.2" y1="385.73" x2="386.2" y2="383.94" stroke="#1f8f2a" stroke-width="0.9"/>
<line x1="383.8" y1="383.94" x2="388.6" y2="383.94" stroke="#1f8f2a" stroke-width="0.9"/>
<line x1="383.8" y1="385.73" x2="388.6" y2="385.73" stroke="#1f8f2a" stroke-width="0.9"/>
<circle cx="386.2" cy="384.83" r="2.2" fill="#1f8f2a"/>
<line x1="396.3" y1="386.92" x2="396.3" y2="385.13" stroke="#1f8f2a" stroke-width="0.9"/>
<line x1="393.9" y1="385.13" x2="398.7" y2="385.13" stroke="#1f8f2a" stroke-width="0.9"/>
<line x1="393.9" y1="386.92" x2="398.7" y2="386.92" stroke="#1f8f2a" stroke-width="0.9"/>
<circle cx="396.3" cy="386.03" r="2.2" fill="#1f8f2a"/>
<line x1="406.4" y1="388.42" x2="406.4" y2="386.03" stroke="#1f8f2a" stroke-width="0.9"/>
<line x1="404" y1="386.03" x2="408.8" y2="386.03" stroke="#1f8f2a" stroke-width="0.9"/>
<line x1="404" y1="388.42" x2="408.8" y2="388.42" stroke="#1f8f2a" stroke-width="0.9"/>
<circle cx="406.4" cy="387.22" r="2.2" fill="#1f8f2a"/>
<line x1="416.5" y1="400.65" x2="416.5" y2="398.86" stroke="#1f8f2a" stroke-width="0.9"/>
<line x1="414.1" y1="398.86" x2="418.9" y2="398.86" stroke="#1f8f2a" stroke-width="0.9"/>
<line x1="414.1" y1="400.65" x2="418.9" y2="400.65" stroke="#1f8f2a" stroke-width="0.9"/>
<circle cx="416.5" cy="399.76" r="2.2" fill="#1f8f2a"/>
<line x1="426.6" y1="402.74" x2="426.6" y2="401.55" stroke="#1f8f2a" stroke-width="0.9"/>
<line x1="424.2" y1="401.55" x2="429" y2="401.55" stroke="#1f8f2a" stroke-width="0.9"/>
<line x1="424.2" y1="402.74" x2="429" y2="402.74" stroke="#1f8f2a" stroke-width="0.9"/>
<circle cx="426.6" cy="402.14" r="2.2" fill="#1f8f2a"/>
<line x1="436.7" y1="402.14" x2="436.7" y2="400.95" stroke="#1f8f2a" stroke-width="0.9"/>
<line x1="434.3" y1="400.95" x2="439.1" y2="400.95" stroke="#1f8f2a" stroke-width="0.9"/>
<line x1="434.3" y1="402.14" x2="439.1" y2="402.14" stroke="#1f8f2a" stroke-width="0.9"/>
<circle cx="436.7" cy="401.55" r="2.2" fill="#1f8f2a"/>
<line x1="446.8" y1="349.02" x2="446.8" y2="344.25" stroke="#1f8f2a" stroke-width="0.9"/>
<line x1="444.4" y1="344.25" x2="449.2" y2="344.25" stroke="#1f8f2a" stroke-width="0.9"/>
<line x1="444.4" y1="349.02" x2="449.2" y2="349.02" stroke="#1f8f2a" stroke-width="0.9"/>
<circle cx="446.8" cy="346.63" r="2.2" fill="#1f8f2a"/>
<line x1="456.9" y1="353.8" x2="456.9" y2="347.83" stroke="#1f8f2a" stroke-width="0.9"/>
<line x1="454.5" y1="347.83" x2="459.3" y2="347.83" stroke="#1f8f2a" stroke-width="0.9"/>
<line x1="454.5" y1="353.8" x2="459.3" y2="353.8" stroke="#1f8f2a" stroke-width="0.9"/>
<circle cx="456.9" cy="350.81" r="2.2" fill="#1f8f2a"/>
<line x1="467" y1="359.77" x2="467" y2="351.41" stroke="#1f8f2a" stroke-width="0.9"/>
<line x1="464.6" y1="351.41" x2="469.4" y2="351.41" stroke="#1f8f2a" stroke-width="0.9"/>
<line x1="464.6" y1="359.77" x2="469.4" y2="359.77" stroke="#1f8f2a" stroke-width="0.9"/>
<circle cx="467" cy="355.59" r="2.2" fill="#1f8f2a"/>
<line x1="477.1" y1="403.93" x2="477.1" y2="402.74" stroke="#1f8f2a" stroke-width="0.9"/>
<line x1="474.7" y1="402.74" x2="479.5" y2="402.74" stroke="#1f8f2a" stroke-width="0.9"/>
<line x1="474.7" y1="403.93" x2="479.5" y2="403.93" stroke="#1f8f2a" stroke-width="0.9"/>
<circle cx="477.1" cy="403.34" r="2.2" fill="#1f8f2a"/>
<line x1="487.2" y1="405.13" x2="487.2" y2="403.93" stroke="#1f8f2a" stroke-width="0.9"/>
<line x1="484.8" y1="403.93" x2="489.6" y2="403.93" stroke="#1f8f2a" stroke-width="0.9"/>
<line x1="484.8" y1="405.13" x2="489.6" y2="405.13" stroke="#1f8f2a" stroke-width="0.9"/>
<circle cx="487.2" cy="404.53" r="2.2" fill="#1f8f2a"/>
<line x1="497.3" y1="405.13" x2="497.3" y2="403.93" stroke="#1f8f2a" stroke-width="0.9"/>
<line x1="494.9" y1="403.93" x2="499.7" y2="403.93" stroke="#1f8f2a" stroke-width="0.9"/>
<line x1="494.9" y1="405.13" x2="499.7" y2="405.13" stroke="#1f8f2a" stroke-width="0.9"/>
<circle cx="497.3" cy="404.53" r="2.2" fill="#1f8f2a"/>
<line x1="378.7" y1="410.5" x2="381.5" y2="410.5" stroke="#2e2e2e" stroke-width="1"/>
<text x="374.6" y="413.3" font-size="7.9" text-anchor="end" font-weight="bold" fill="#1c1c1c" stroke="#1c1c1c" stroke-width="0.32">0</text>
<line x1="378.7" y1="398.56" x2="381.5" y2="398.56" stroke="#2e2e2e" stroke-width="1"/>
<text x="374.6" y="401.36" font-size="7.9" text-anchor="end" font-weight="bold" fill="#1c1c1c" stroke="#1c1c1c" stroke-width="0.32">20</text>
<line x1="378.7" y1="386.62" x2="381.5" y2="386.62" stroke="#2e2e2e" stroke-width="1"/>
<text x="374.6" y="389.43" font-size="7.9" text-anchor="end" font-weight="bold" fill="#1c1c1c" stroke="#1c1c1c" stroke-width="0.32">40</text>
<line x1="378.7" y1="374.69" x2="381.5" y2="374.69" stroke="#2e2e2e" stroke-width="1"/>
<text x="374.6" y="377.49" font-size="7.9" text-anchor="end" font-weight="bold" fill="#1c1c1c" stroke="#1c1c1c" stroke-width="0.32">60</text>
<line x1="378.7" y1="362.75" x2="381.5" y2="362.75" stroke="#2e2e2e" stroke-width="1"/>
<text x="374.6" y="365.55" font-size="7.9" text-anchor="end" font-weight="bold" fill="#1c1c1c" stroke="#1c1c1c" stroke-width="0.32">80</text>
<line x1="378.7" y1="350.81" x2="381.5" y2="350.81" stroke="#2e2e2e" stroke-width="1"/>
<text x="374.6" y="353.61" font-size="7.9" text-anchor="end" font-weight="bold" fill="#1c1c1c" stroke="#1c1c1c" stroke-width="0.32">100</text>
<line x1="378.7" y1="338.88" x2="381.5" y2="338.88" stroke="#2e2e2e" stroke-width="1"/>
<text x="374.6" y="341.68" font-size="7.9" text-anchor="end" font-weight="bold" fill="#1c1c1c" stroke="#1c1c1c" stroke-width="0.32">120</text>
<line x1="378.7" y1="326.94" x2="381.5" y2="326.94" stroke="#2e2e2e" stroke-width="1"/>
<text x="374.6" y="329.74" font-size="7.9" text-anchor="end" font-weight="bold" fill="#1c1c1c" stroke="#1c1c1c" stroke-width="0.32">140</text>
<line x1="378.7" y1="315" x2="381.5" y2="315" stroke="#2e2e2e" stroke-width="1"/>
<text x="374.6" y="317.8" font-size="7.9" text-anchor="end" font-weight="bold" fill="#1c1c1c" stroke="#1c1c1c" stroke-width="0.32">160</text>
<line x1="384" y1="410.5" x2="384" y2="413.3" stroke="#2e2e2e" stroke-width="1"/>
<text x="384" y="423.6" font-size="7.7" text-anchor="middle" font-weight="bold" fill="#1c1c1c" stroke="#1c1c1c" stroke-width="0.32">0</text>
<line x1="403" y1="410.5" x2="403" y2="413.3" stroke="#2e2e2e" stroke-width="1"/>
<text x="403" y="423.6" font-size="7.7" text-anchor="middle" font-weight="bold" fill="#1c1c1c" stroke="#1c1c1c" stroke-width="0.32">7</text>
<line x1="422" y1="410.5" x2="422" y2="413.3" stroke="#2e2e2e" stroke-width="1"/>
<text x="422" y="423.6" font-size="7.7" text-anchor="middle" font-weight="bold" fill="#1c1c1c" stroke="#1c1c1c" stroke-width="0.32">14</text>
<line x1="441" y1="410.5" x2="441" y2="413.3" stroke="#2e2e2e" stroke-width="1"/>
<text x="441" y="423.6" font-size="7.7" text-anchor="middle" font-weight="bold" fill="#1c1c1c" stroke="#1c1c1c" stroke-width="0.32">21</text>
<line x1="460" y1="410.5" x2="460" y2="413.3" stroke="#2e2e2e" stroke-width="1"/>
<text x="460" y="423.6" font-size="7.7" text-anchor="middle" font-weight="bold" fill="#1c1c1c" stroke="#1c1c1c" stroke-width="0.32">28</text>
<line x1="479" y1="410.5" x2="479" y2="413.3" stroke="#2e2e2e" stroke-width="1"/>
<text x="479" y="423.6" font-size="7.7" text-anchor="middle" font-weight="bold" fill="#1c1c1c" stroke="#1c1c1c" stroke-width="0.32">35</text>
<line x1="498" y1="410.5" x2="498" y2="413.3" stroke="#2e2e2e" stroke-width="1"/>
<text x="498" y="423.6" font-size="7.7" text-anchor="middle" font-weight="bold" fill="#1c1c1c" stroke="#1c1c1c" stroke-width="0.32">42</text>
<text x="443.5" y="431.8" font-size="8.4" text-anchor="middle" fill="#1c1c1c" stroke="#1c1c1c" stroke-width="0.18">Time (min)</text>
<text x="440.5" y="310.6" font-size="7.3" text-anchor="middle" fill="#1c1c1c" stroke="#1c1c1c" stroke-width="0.18">MCU siRNA</text>
<text x="353" y="319.2" font-size="9.4" text-anchor="start" fill="#1c1c1c" stroke="#1c1c1c" stroke-width="0.18">j</text>
<text transform="translate(357 364.7) rotate(-90)" font-size="7.4" text-anchor="middle" fill="#1c1c1c" stroke="#1c1c1c" stroke-width="0.18">OCR (pMol/min)</text>
<text x="408" y="322.2" font-size="7" text-anchor="start" font-weight="bold" fill="#1c1c1c" stroke="#1c1c1c" stroke-width="0.32">A</text>
<text x="439.4" y="322.2" font-size="7" text-anchor="start" font-weight="bold" fill="#1c1c1c" stroke="#1c1c1c" stroke-width="0.32">B</text>
<text x="469.3" y="322.2" font-size="7" text-anchor="start" font-weight="bold" fill="#1c1c1c" stroke="#1c1c1c" stroke-width="0.32">C</text>
</g>
<g>
<text x="525.9" y="174.3" font-size="9.6" text-anchor="start" fill="#1c1c1c" stroke="#1c1c1c" stroke-width="0.18">g</text>
<text x="590.5" y="187.3" font-size="7.3" text-anchor="middle" fill="#1c1c1c" stroke="#1c1c1c" stroke-width="0.18">Scr siRNA</text>
<text x="646" y="187.3" font-size="7.3" text-anchor="middle" fill="#1c1c1c" stroke="#1c1c1c" stroke-width="0.18">+MCU siRNA</text>
<line x1="568.6" y1="189.6" x2="613" y2="189.6" stroke="#444" stroke-width="1"/>
<line x1="622.2" y1="189.6" x2="672.3" y2="189.6" stroke="#444" stroke-width="1"/>
<text x="562.6" y="197.4" font-size="7.3" text-anchor="end" fill="#1c1c1c" stroke="#1c1c1c" stroke-width="0.18">rTat</text>
<text x="562.6" y="206.9" font-size="7.3" text-anchor="end" fill="#1c1c1c" stroke="#1c1c1c" stroke-width="0.18">Cocaine</text>
<line x1="568.6" y1="195" x2="570.6" y2="195" stroke="#222" stroke-width="1.0"/>
<line x1="568.6" y1="205.1" x2="570.6" y2="205.1" stroke="#222" stroke-width="1.0"/>
<line x1="582.9" y1="194.6" x2="586.3" y2="194.6" stroke="#1a1a1a" stroke-width="1.1"/>
<line x1="584.6" y1="192.9" x2="584.6" y2="196.3" stroke="#1a1a1a" stroke-width="1.1"/>
<line x1="583.6" y1="205.1" x2="585.6" y2="205.1" stroke="#222" stroke-width="1.0"/>
<line x1="597.7" y1="195" x2="599.7" y2="195" stroke="#222" stroke-width="1.0"/>
<line x1="597" y1="204.7" x2="600.4" y2="204.7" stroke="#1a1a1a" stroke-width="1.1"/>
<line x1="598.7" y1="203" x2="598.7" y2="206.4" stroke="#1a1a1a" stroke-width="1.1"/>
<line x1="611.1" y1="194.6" x2="614.5" y2="194.6" stroke="#1a1a1a" stroke-width="1.1"/>
<line x1="612.8" y1="192.9" x2="612.8" y2="196.3" stroke="#1a1a1a" stroke-width="1.1"/>
<line x1="611.1" y1="204.7" x2="614.5" y2="204.7" stroke="#1a1a1a" stroke-width="1.1"/>
<line x1="612.8" y1="203" x2="612.8" y2="206.4" stroke="#1a1a1a" stroke-width="1.1"/>
<line x1="625.4" y1="195" x2="627.4" y2="195" stroke="#222" stroke-width="1.0"/>
<line x1="625.4" y1="205.1" x2="627.4" y2="205.1" stroke="#222" stroke-width="1.0"/>
<line x1="638.5" y1="194.6" x2="641.9" y2="194.6" stroke="#1a1a1a" stroke-width="1.1"/>
<line x1="640.2" y1="192.9" x2="640.2" y2="196.3" stroke="#1a1a1a" stroke-width="1.1"/>
<line x1="639.2" y1="205.1" x2="641.2" y2="205.1" stroke="#222" stroke-width="1.0"/>
<line x1="653.3" y1="195" x2="655.3" y2="195" stroke="#222" stroke-width="1.0"/>
<line x1="652.6" y1="204.7" x2="656" y2="204.7" stroke="#1a1a1a" stroke-width="1.1"/>
<line x1="654.3" y1="203" x2="654.3" y2="206.4" stroke="#1a1a1a" stroke-width="1.1"/>
<line x1="666.9" y1="194.6" x2="670.3" y2="194.6" stroke="#1a1a1a" stroke-width="1.1"/>
<line x1="668.6" y1="192.9" x2="668.6" y2="196.3" stroke="#1a1a1a" stroke-width="1.1"/>
<line x1="666.9" y1="204.7" x2="670.3" y2="204.7" stroke="#1a1a1a" stroke-width="1.1"/>
<line x1="668.6" y1="203" x2="668.6" y2="206.4" stroke="#1a1a1a" stroke-width="1.1"/>
<rect x="563.5" y="210.5" width="110.5" height="14" fill="#a8a8a8"/>
<rect x="563.5" y="210.5" width="110.5" height="3" fill="#b0b0b0" opacity="0.6"/>
<g filter="url(#bl1)">
<rect x="564.2" y="215" width="10.5" height="1.3" fill="#383838" opacity="0.25" transform="rotate(3 564.2 215)"/>
<rect x="579.5" y="216.8" width="10.5" height="1.3" fill="#383838" opacity="0.5" transform="rotate(3 579.5 216.8)"/>
<rect x="593.8" y="217" width="9.5" height="1.3" fill="#383838" opacity="0.5" transform="rotate(3 593.8 217)"/>
<rect x="608" y="217.4" width="10.5" height="1.3" fill="#383838" opacity="0.5" transform="rotate(3 608 217.4)"/>
<rect x="622.3" y="218.1" width="10.5" height="1.3" fill="#383838" opacity="0.55" transform="rotate(3 622.3 218.1)"/>
<rect x="636.5" y="218.5" width="9.5" height="1.3" fill="#383838" opacity="0.5" transform="rotate(3 636.5 218.5)"/>
<rect x="652" y="219.3" width="8" height="1.3" fill="#383838" opacity="0.45" transform="rotate(3 652 219.3)"/>
<rect x="664.5" y="218.9" width="9" height="1.3" fill="#383838" opacity="0.8" transform="rotate(3 664.5 218.9)"/>
</g>
<rect x="563.5" y="210.5" width="110.5" height="14" fill="none" stroke="#3a3a3a" stroke-width="0.9"/>
<rect x="563.5" y="228.5" width="110.5" height="12" fill="#b2b2b2"/>
<g filter="url(#bl2)">
<rect x="564.6" y="232.6" width="13" height="4.3" rx="2.1" fill="#2c2c2c"/>
<rect x="578.6" y="232.6" width="13" height="4.3" rx="2.1" fill="#2c2c2c"/>
<rect x="592.8" y="232.6" width="13" height="4.3" rx="2.1" fill="#2c2c2c"/>
<rect x="606.5" y="232.6" width="13" height="4.3" rx="2.1" fill="#2c2c2c"/>
<rect x="620" y="232.6" width="13" height="4.3" rx="2.1" fill="#2c2c2c"/>
<rect x="633.6" y="232.6" width="13" height="4.3" rx="2.1" fill="#2c2c2c"/>
<rect x="647.6" y="232.6" width="13" height="4.3" rx="2.1" fill="#2c2c2c"/>
<rect x="661.2" y="232.6" width="13" height="4.3" rx="2.1" fill="#2c2c2c"/>
</g>
<rect x="563.5" y="228.5" width="110.5" height="12" fill="none" stroke="#3a3a3a" stroke-width="0.9"/>
<path d="M556 213.9 L562.6 216.3 L556 218.7 Z" fill="#111"/>
<path d="M556 232.4 L562.6 234.8 L556 237.2 Z" fill="#111"/>
<text x="554.5" y="218.7" font-size="6.4" text-anchor="end" fill="#1c1c1c" stroke="#1c1c1c" stroke-width="0.18">p-PDHA1</text>
<text x="560.5" y="226.9" font-size="6.4" text-anchor="end" fill="#1c1c1c" stroke="#1c1c1c" stroke-width="0.18">(S293) 43kDa</text>
<text x="554.5" y="236.7" font-size="6.4" text-anchor="end" fill="#1c1c1c" stroke="#1c1c1c" stroke-width="0.18">PDH</text>
<text x="557.5" y="243.7" font-size="6.4" text-anchor="end" fill="#1c1c1c" stroke="#1c1c1c" stroke-width="0.18">43kDa</text>
<text x="674.8" y="221.9" font-size="6.2" text-anchor="start" fill="#222" stroke="none">-37</text>
<text x="674.8" y="239.2" font-size="6.2" text-anchor="start" fill="#222" stroke="none">-37</text>
</g>
<g>
<text x="512.7" y="14.1" font-size="7.2" text-anchor="start" fill="#8f2232" stroke="#8f2232" stroke-width="0.18">Control</text>
<text x="512.7" y="21.7" font-size="7.2" text-anchor="start" fill="#eea261" stroke="#eea261" stroke-width="0.18">rTat</text>
<text x="512.7" y="31.1" font-size="7.2" text-anchor="start" fill="#8c8a34" stroke="#8c8a34" stroke-width="0.18">Cocaine</text>
<text x="512.7" y="39.5" font-size="7.2" text-anchor="start" fill="#2f5b30" stroke="#2f5b30" stroke-width="0.18">rTat + Cocaine</text>
</g>
</g>
</svg></body></html>
